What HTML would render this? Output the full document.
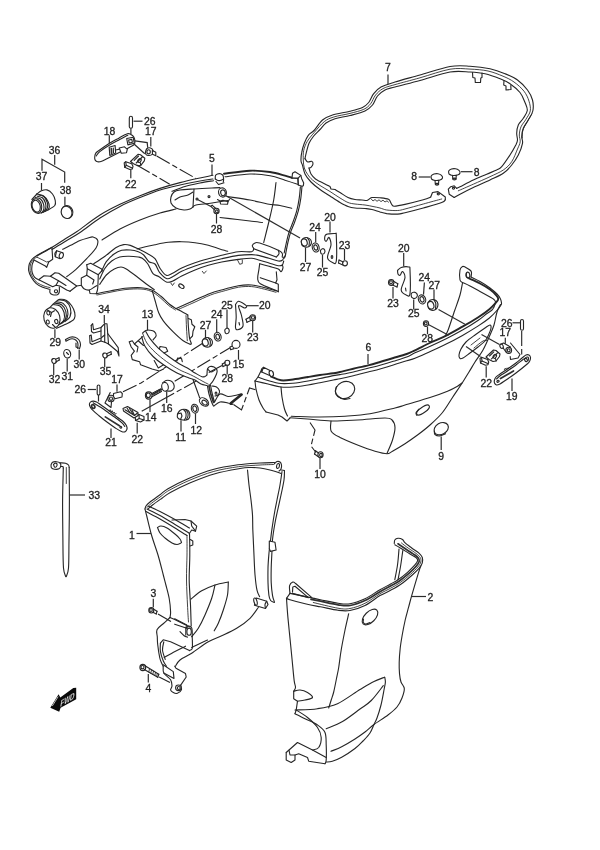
<!DOCTYPE html>
<html>
<head>
<meta charset="utf-8">
<title>Side Cover parts diagram</title>
<style>
html,body{margin:0;padding:0;background:#fff;}
body{width:600px;height:850px;overflow:hidden;font-family:"Liberation Sans",sans-serif;}
svg{display:block;position:absolute;left:0;top:0;will-change:transform;}
.l{fill:none;stroke:#262626;stroke-width:1.12;stroke-linecap:round;stroke-linejoin:round;}
.t{fill:none;stroke:#222;stroke-width:.85;stroke-linecap:round;stroke-linejoin:round;}
.w{fill:#fff;stroke:#262626;stroke-width:1.12;stroke-linecap:round;stroke-linejoin:round;}
.b{fill:none;stroke:#262626;stroke-width:1.9;stroke-linecap:round;stroke-linejoin:round;}
.m{fill:none;stroke:#303030;stroke-width:1.7;stroke-linecap:round;stroke-linejoin:round;}
.ld{fill:none;stroke:#2c2c2c;stroke-width:1.2;}
.d{fill:none;stroke:#222;stroke-width:1.1;stroke-dasharray:15 3 5.5 3;}
.k{fill:#222;stroke:none;}
text{font-family:"Liberation Sans",sans-serif;font-size:10.4px;fill:#222;stroke:#222;stroke-width:.3px;text-anchor:middle;}
</style>
</head>
<body>
<svg width="600" height="850" viewBox="0 0 600 850">
<rect x="0" y="0" width="600" height="850" fill="#fff"/>

<g id="part5">
<path class="l" d="M37 256C39.3 254.7 46.3 250.8 51 248C55.7 245.2 60.7 241.8 65 239C69.3 236.2 71.2 235.5 77 231.5C82.8 227.5 92.8 219.5 100 215C107.2 210.5 113.3 207.5 120 204.3C126.7 201.1 133.3 198.3 140 195.7C146.7 193 153.3 190.6 160 188.4C166.7 186.2 173.3 184.3 180 182.6C186.7 180.9 194.5 179.2 200 178C205.5 176.8 210.8 175.8 213 175.3"/>
<path class="l" d="M52 249.5C54.3 248.1 61.3 243.8 66 241C70.7 238.2 74.3 236.3 80 232.5C85.7 228.7 93.3 222.3 100 218C106.7 213.7 113.3 209.8 120 206.4C126.7 203 133.3 200.3 140 197.6C146.7 194.9 153.3 192.1 160 190C166.7 187.9 173.3 186.5 180 185C186.7 183.5 194.5 182 200 181C205.5 180 210.8 179.3 213 179"/>
<path class="b" d="M224 173.7C228.3 173.2 242.3 171 250 170.7C257.7 170.4 264.2 171.2 270 172C275.8 172.8 281.3 174.7 285 175.7C288.7 176.7 290.8 177.5 292 177.8"/>
<path class="l" d="M225 176.8C229.2 176.3 242.5 174.2 250 174C257.5 173.8 264.2 174.8 270 175.8C275.8 176.8 280.4 178.8 285 180.2C289.6 181.6 295.4 183.5 297.5 184.2"/>
<path class="l" d="M52 247.3C50.7 248 46.5 250.2 44 251.5C41.5 252.8 39.3 254 37.3 255.3C35.3 256.6 33.3 257.9 32 259.3C30.7 260.8 29.9 262.1 29.3 264C28.8 265.9 28.4 268.5 28.7 270.7C29 272.9 30.1 275.2 31.3 277.3C32.5 279.4 34.1 281.6 36 283.3C37.9 285 40.5 286.3 42.7 287.3C44.9 288.3 48.2 289 49.3 289.3"/>
<path class="t" d="M37.3 257.3C36.9 257.5 35.8 257.5 34.7 258.5C33.6 259.5 31.6 261.3 30.9 263.3C30.1 265.3 29.9 268.4 30.2 270.7C30.5 273 31.5 275.3 32.7 277.3C33.9 279.3 35.4 281.2 37.3 282.7C39.2 284.1 41.9 285.2 44 286C46.1 286.8 49 287.3 50 287.6"/>
<path class="l" d="M34 260C33.7 260.9 32.3 263.3 32 265.3C31.7 267.3 31.6 270 32 272C32.5 274 33.5 276 34.7 277.3C35.9 278.6 38.5 279.6 39.3 280"/>
<path class="l" d="M34 260 L45.3 266 L46.7 267.3 L48.7 262 L52.7 259.3 L52 248"/>
<path class="t" d="M37.3 257.3 L46.7 262 L48.3 261.5"/>
<path class="l" d="M50 289.3C50 289.9 49.5 291.8 50 292.7C50.5 293.6 51.5 294.4 52.7 294.7C53.9 295 56.2 295.1 57.3 294.7C58.4 294.2 59 293.3 59.3 292C59.6 290.7 59.3 287.6 59.3 286.7"/>
<ellipse class="l" cx="56" cy="291.3" rx="1.6" ry="1.6"/>
<path class="w" d="M56.7 250.7 L62.7 252.7 L60 258.7 L55.3 256.7Z"/>
<path class="l" d="M56.7 250.7C56.4 251.1 55.1 252.4 54.9 253.4C54.7 254.4 55.2 256.1 55.3 256.7"/>
<ellipse class="w" cx="61.3" cy="255.5" rx="2" ry="3" transform="rotate(15 61.3 255.5)"/>
<path class="l" d="M62.7 249.3C64.5 248.4 70.4 245.5 73.3 244C76.2 242.5 77.5 241.5 80 240.5C82.5 239.5 85.8 238.6 88 238C90.2 237.4 91.4 236.6 93 237C94.6 237.4 97.2 238.5 97.7 240.3C98.2 242.1 97.8 244.9 96 248C94.2 251.1 90 255.1 86.7 258.7C83.4 262.2 79.3 266.3 76 269.3C72.7 272.3 68.2 275.5 66.7 276.7"/>
<path class="l" d="M39.3 279.3 L44 275.7 L50.4 276.3 L55 272.7 L58.7 273.3 L76.7 286 L70 291.3"/>
<path class="l" d="M39.3 280 L52.7 286.7 L56 285.3 L60 286 L66.7 290 L70 291.3"/>
<path class="l" d="M50.4 276.3 L58.5 280.7 L56 285.3"/>
<path class="l" d="M58.5 280.7 L66 285.5"/>
<path class="l" d="M76.7 286 L81.3 285.3 L81.3 278 L86.7 275.3 L94 280 L92.7 284"/>
<path class="l" d="M81.3 285.3C81.8 285.9 82.7 287.9 84 288.7C85.3 289.5 87.5 290.3 89.3 290C91.1 289.7 93.4 287.4 94.7 286.7C96 285.9 96.6 285.7 97 285.5"/>
<path class="l" d="M86.7 264.7 L90.7 263.3 L101.7 269 L102.3 271"/>
<path class="l" d="M86.7 264.7 L87.3 268.7 L98.3 274.7 L101.7 271"/>
<path class="l" d="M87.3 268.7 L86.7 275.3"/>
<path class="l" d="M98.3 274.7C98.2 277 98 285.1 97.7 288.3C97.4 291.5 96.5 292.8 96.3 293.7"/>
<path class="l" d="M89.3 290 L90 293.5 L96.3 293.7"/>
<path class="l" d="M96.3 293.7C98.6 293.2 105.2 291.9 110 291C114.8 290.1 119.8 288.9 125 288.3C130.2 287.8 136.6 287.4 141 287.7C145.4 288 148.4 288.6 151.7 290C155 291.4 158.1 294 161 296.3C163.9 298.6 166.7 301.9 169.2 304C171.7 306.1 173.1 306.8 176.2 308.6C179.3 310.4 185.9 313.9 187.8 315"/>
<path class="t" d="M97 295C99.2 294.6 105.3 293.2 110 292.3C114.7 291.4 119.8 290.2 125 289.6C130.2 289.1 136.7 288.7 141 289C145.3 289.3 147.8 289.9 151 291.3C154.2 292.7 157.1 295.2 160 297.5C162.9 299.8 165.7 303.1 168.3 305.2C170.9 307.3 174.3 309.2 175.5 310"/>
<path class="l" d="M102 240C105 238.2 113.7 232.3 120 229C126.3 225.7 133.3 222.7 140 220C146.7 217.3 154 214.8 160 213C166 211.2 173.3 209.7 176 209"/>
<path class="l" d="M93.7 263.7C95.6 262.5 101.3 259 105 256.3C108.7 253.6 112.6 249.6 115.7 247.7C118.8 245.8 121.3 245 123.7 244.6C126.1 244.2 127.9 244.7 130.3 245.4C132.7 246.1 135.4 247.6 138.3 249C141.2 250.4 144.9 252.1 147.7 253.7C150.5 255.3 152.9 256.2 155 258.7C157.1 261.2 158.4 265.9 160.3 268.7C162.2 271.5 164.4 274.5 166.3 275.3C168.2 276.1 169.4 274.7 172 273.5C174.6 272.3 177.9 269.8 181.7 268C185.5 266.2 190.6 264.2 195 262.7C199.4 261.1 203.9 259.9 208.3 258.7C212.8 257.5 216.7 256.5 221.7 255.3C226.7 254.1 233.3 252.3 238.3 251.7C243.3 251.1 249.1 252.3 251.7 251.7C254.3 251.1 253.4 248.9 253.7 248.3"/>
<path class="l" d="M101.7 271C102.5 269.4 104.3 264.5 106.3 261.7C108.3 258.9 111.1 256.2 113.7 254.3C116.3 252.4 118.9 251 121.7 250.3C124.5 249.6 127.5 249.8 130.3 250C133.1 250.2 136.1 250.9 138.3 251.7C140.5 252.5 141.9 253.3 143.7 255C145.5 256.7 147.1 260.2 149 261.7C150.9 263.2 153.2 262.2 155 264C156.8 265.8 157.7 270.2 159.7 272.7C161.7 275.1 164.8 278.1 167 278.7C169.2 279.3 170.6 277.7 173 276.5C175.4 275.3 178 273.1 181.7 271.3C185.4 269.6 190.6 267.6 195 266C199.4 264.4 203.9 263.2 208.3 262C212.8 260.8 216.7 259.8 221.7 258.7C226.7 257.6 233.3 256.1 238.3 255.4C243.3 254.7 248.4 254.6 251.7 254.6C255 254.6 255.4 254.8 258.3 255.4C261.2 256 265.7 257.4 269 258.3C272.3 259.2 276.1 260.7 278.3 261C280.5 261.3 281.4 260.9 282.3 260.3C283.2 259.8 283.5 258.1 283.7 257.7"/>
<path class="l" d="M99.7 279C100.6 277.2 103 271.3 105 268.3C107 265.3 109.2 262.9 111.7 261C114.2 259.1 116.8 257.8 119.7 257C122.6 256.2 125.9 256.3 129 256.3C132.1 256.3 136.1 256.7 138.3 257C140.5 257.3 140.7 257.2 142.3 258.3C143.9 259.4 145.9 261.1 147.7 263.7C149.5 266.3 151.1 271.5 153 273.7C154.9 275.9 156.8 275.3 159 276.7C161.2 278.1 164.1 281.2 166.3 282C168.5 282.8 169.7 282.3 172.3 281.3C174.9 280.3 177.9 277.9 181.7 276C185.5 274.1 190.6 271.8 195 270C199.4 268.2 203.9 266.6 208.3 265.3C212.8 264 216.7 263 221.7 262C226.7 261 233.3 260 238.3 259.4C243.3 258.8 248.1 258.1 251.7 258.3C255.3 258.5 256.8 259.5 259.7 260.3C262.6 261.1 265.9 262.1 269 263C272.1 263.9 276.1 265.4 278.3 265.7C280.5 266 281.4 265.8 282.3 265C283.2 264.2 283.5 261.7 283.7 261"/>
<path class="l" d="M99.7 284.3C100.8 282.8 103.9 277.6 106.3 275C108.7 272.4 111.8 270.3 114.3 269C116.8 267.7 119 267 121 267C123 267 123.4 267.2 126.3 269C129.2 270.8 134.7 275 138.3 277.7C141.9 280.4 145 283 147.7 285C150.4 287 153.2 288.9 154.3 289.7"/>
<path class="l" d="M253.7 248.3C253.5 247.9 252.1 246.6 252.3 245.7C252.5 244.8 253.8 243.4 255 243C256.2 242.6 255.8 241.8 259.7 243C263.6 244.2 274.5 248.5 278.3 250.3C282.1 252.1 281.6 252.6 282.3 253.7C283 254.8 281.9 256.6 282.3 257C282.8 257.4 284.4 256.9 285 256.3C285.6 255.8 285.6 254.1 285.7 253.7"/>
<path class="l" d="M253.7 248.7 L276.3 257"/>
<path class="l" d="M276.3 257C276.8 256.4 278.7 254.8 279 253.7C279.3 252.6 278.4 250.9 278.3 250.3"/>
<path class="l" d="M259.7 263.7C261.2 264.1 265.9 265.4 269 266.3C272.1 267.2 276.3 268.1 278.3 269C280.3 269.9 280.2 271.9 281 271.7C281.8 271.5 282.8 268.8 283 267.7C283.2 266.6 282.4 265.4 282.3 265"/>
<path class="t" d="M171 283.3 L172.5 285.5 L174.3 283"/>
<path class="t" d="M202.3 271.3 L204 273.5 L206.3 271"/>
<path class="t" d="M237.7 260.3 L239.7 264.3 L242.3 263.5 L242.3 260"/>
<path class="l" d="M259.7 263.7C259.6 264.6 259.3 266.6 259 269C258.7 271.4 257.5 275.9 257.7 278.3C257.9 280.8 257.3 281.7 260.3 283.7C263.3 285.7 272.7 289 275.7 290.3C278.7 291.6 277.9 291.5 278.3 291.7"/>
<path class="l" d="M260.3 277.7 L275.7 283 L277 279.7 L276.3 271.7"/>
<path class="l" d="M275.7 283 L278.3 284.3 L278.3 291.7"/>
<path class="l" d="M137 249C138.8 248.6 144.7 247 147.7 246.3C150.7 245.6 151.6 245.4 155 244.7C158.4 244 163.9 242.8 168.3 242.3C172.8 241.8 177.2 241.6 181.7 241.7C186.1 241.8 190.6 242.1 195 242.7C199.4 243.3 204.3 244.3 208.3 245.3C212.3 246.3 215.8 247.7 219 248.7C222.2 249.7 226.2 250.9 227.7 251.3"/>
<path class="l" d="M220 187.6C218.7 187.7 216.3 187.8 212 188C207.7 188.2 199.3 188.7 194 189C188.7 189.3 183.3 189.5 180 190C176.7 190.5 175.5 190.8 174 192C172.5 193.2 171.5 195.2 171 197C170.5 198.8 170.2 201.2 171 203C171.8 204.8 173.8 206.8 176 208C178.2 209.2 181.7 209.8 184 210C186.3 210.2 188.5 209.5 190 209C191.5 208.5 192 207.7 193 207C194 206.3 192.8 205.7 196 205C199.2 204.3 206.7 203.8 212 203C217.3 202.2 225.3 200.9 228 200.5"/>
<path class="l" d="M175 200C175.8 199.5 177.8 197.8 180 197C182.2 196.2 185.8 195.8 188 195C190.2 194.2 192.2 192.5 193 192"/>
<path class="l" d="M194 189 L193 207"/>
<ellipse class="l" cx="197" cy="199" rx="1" ry="1"/>
<ellipse class="l" cx="209" cy="196.6" rx="1" ry="1"/>
<path class="w" d="M215.3 179C215.3 178.4 215.1 176.3 215.5 175.5C215.9 174.7 216.7 174.3 217.5 174C218.3 173.7 219.6 173.6 220.5 173.8C221.4 174.1 222.5 174.6 223 175.5C223.5 176.4 223.5 177.9 223.6 179C223.7 180.1 223.4 181.5 223.3 182"/>
<path class="l" d="M215.3 179C215.8 179.2 217.1 180.3 218 180.5C218.9 180.7 220.1 180.6 221 180.3C221.9 180.1 222.9 179.2 223.3 179"/>
<path class="l" d="M216 181.5 L218.5 184.5 L224 182.8"/>
<path class="l" d="M172 191.3C174.2 190.5 180.3 187.9 185 186.5C189.7 185.1 195.2 184 200 183C204.8 182 211.2 181.1 213.5 180.7"/>
<ellipse class="w" cx="222.5" cy="192.5" rx="3.9" ry="4.6" transform="rotate(-15 222.5 192.5)"/>
<ellipse class="l" cx="223" cy="192.8" rx="2.3" ry="2.9" transform="rotate(-15 223 192.8)"/>
<path class="l" d="M217.5 199.5 L220 201 L223 200.2 L228 201.7 L229.5 199.3"/>
<path class="l" d="M220 201 L220.5 204 L227.5 204.3 L228 201.7"/>
<path class="ld" d="M225.5 195.5 L300 238"/>
<path class="w" d="M292 178 L292.5 173.3 L295 171.7 L300.8 175.4 L301.7 178.7 L303.7 182.9 L303.3 185.8 L302 186.2 L298.3 185 L297.9 178.3Z"/>
<path class="l" d="M297.9 178.3 L300.8 175.4"/>
<path class="l" d="M298.3 185 L297.9 178.3 L292 178"/>
<path class="l" d="M302 186.2C301.8 188.2 301.4 194.2 300.8 198.3C300.2 202.4 299.4 206.6 298.3 210.8C297.2 215 295.4 219.8 294.2 223.3C292.9 226.8 291.8 228.6 290.8 231.7C289.8 234.8 288.9 238.3 288 242C287.1 245.7 286.2 251.3 285.6 254C285 256.7 284.7 257.3 284.5 258"/>
<path class="l" d="M300.4 186.7C300.2 188.6 299.8 194.3 299.2 198.3C298.6 202.3 297.8 206.6 296.7 210.8C295.6 215 293.8 219.8 292.5 223.3C291.2 226.8 290.2 228.6 289.2 231.7C288.2 234.8 287.3 238.4 286.5 242C285.7 245.6 284.6 251.2 284.2 253"/>
<path class="l" d="M276 182.5C275.6 185.4 274.9 193.3 273.7 200C272.5 206.7 270.4 215.4 268.7 222.5C267 229.6 264.5 239.2 263.7 242.5"/>
<path class="l" d="M220 217.5C222.9 217.8 232.5 218.9 237.5 219.5C242.5 220.1 245.8 220.5 250 221C254.2 221.5 260.4 222.2 262.5 222.5"/>
<path class="l" d="M227 196.5C230.8 197.1 243.2 198.8 250 200C256.8 201.2 262.5 203.1 267.5 204C272.5 204.9 276 204.8 280 205.5C284 206.2 289.8 207.8 291.7 208.3"/>
<path class="l" d="M152.3 291C152.8 292.7 154.1 297.4 155.2 301C156.3 304.6 157.3 309.4 158.7 312.7C160 316 161 317.7 163.3 320.8C165.6 323.9 169.4 328 172.7 331.3C176 334.6 180.3 338.6 183.2 340.7C186.1 342.8 189 343.6 190.2 344.2"/>
<path class="l" d="M187.8 315C187.9 316.9 188.1 322.8 188.4 326.7C188.7 330.6 189.1 335.5 189.6 338.3C190.1 341.1 191.2 342.6 191.3 343.6C191.4 344.6 190.4 344.1 190.2 344.2"/>
<path class="t" d="M186 315.6C186.1 317.7 186.3 323.8 186.5 328C186.7 332.2 187.2 338.6 187.3 340.7"/>
<path class="l" d="M188.4 318.5 L191.3 319.7 L192 324.3 L194.8 326.7 L193 331.3 L192.5 336 L190.2 338.3"/>
<path class="l" d="M176.2 308.6C179 307.3 187.4 303.5 193 301C198.6 298.5 204.7 295.4 210 293.4C215.3 291.4 220.3 290.3 225 289C229.7 287.7 233.9 286.4 238.3 285.7C242.8 285 247.2 284.7 251.7 285C256.1 285.3 260.8 286.7 265 287.7C269.2 288.7 275 290.4 277 291"/>
<path class="t" d="M178 309.6C180.7 308.4 188.6 304.9 194 302.5C199.4 300.1 205.3 297 210.5 295C215.7 293 220.6 291.9 225.3 290.6C230 289.3 234.1 287.9 238.5 287.2C242.9 286.5 247.4 286.3 251.7 286.6C256 286.9 260.4 288.2 264.5 289.2C268.6 290.1 274.1 291.8 276 292.3"/>
<ellipse class="l" cx="181.4" cy="286.2" rx="1.7" ry="3" transform="rotate(-55 181.4 286.2)"/>
</g>
<g id="part7">
<path class="l" d="M445.3 199.8C444.7 200.3 445.4 201.2 441.7 202.6C438 204 429.4 206.3 423.3 208C417.2 209.7 409.3 211.7 405 212.7C400.7 213.7 400.8 213.9 397.7 214.1C394.6 214.2 389.6 213.9 386.7 213.6C383.8 213.2 382.4 212.7 380 212C377.6 211.3 374.5 210.1 372 209.5C369.5 208.9 367.8 208.8 365 208.5C362.2 208.2 357.8 208.3 355 208C352.2 207.7 350.5 207.4 348 206.5C345.5 205.6 343 204.2 340 202.5C337 200.8 333.3 198.2 330 196C326.7 193.8 323.2 191.8 320 189.5C316.8 187.2 313.5 184.6 311 182C308.5 179.4 306.4 176.9 305 174C303.6 171.1 303 166.9 302.3 164.7C301.6 162.5 301.1 162.7 301 160.7C300.9 158.7 301.1 155.6 301.7 152.7C302.2 149.8 303.2 146.2 304.3 143.3C305.4 140.4 306.7 137.4 308.3 135.3C309.9 133.2 311.6 133.1 314 130.5C316.4 128 319.4 122.6 322.5 120C325.6 117.4 327.9 116.5 332.5 115C337.1 113.5 345 112.5 350 111.2C355 110 359.4 109 362.5 107.5C365.6 106 366.8 104.8 368.7 102.5C370.6 100.2 371.6 96.3 373.7 93.7C375.8 91.1 377.4 89 381 87C384.6 85 388.5 84 395 82C401.5 80 410.8 77.6 420 75C429.2 72.4 441.7 68 450 66.5C458.3 65 463.3 65.8 470 66.2C476.7 66.6 484.2 67.5 490 68.7C495.8 70 500.4 71.8 505 73.7C509.6 75.6 513.8 77.3 517.5 80C521.2 82.7 525 86.7 527.5 90C530 93.3 531.6 96.5 532.5 100C533.4 103.5 533.5 107.7 532.8 111C532.1 114.3 529.9 117.1 528.3 120C526.7 122.9 524.4 125.5 523.3 128.3C522.2 131.1 521.8 134.2 521.7 136.7C521.6 139.2 523.1 140.2 522.5 143.3C521.9 146.4 520.1 151.4 518.3 155C516.5 158.6 514.2 161.9 511.7 165C509.2 168.1 506.9 170.8 503.3 173.3C499.7 175.8 495 177.6 490 180C485 182.4 478.3 185.1 473.3 187.5C468.3 189.9 463.2 192.5 460 194.2C456.8 195.9 455.2 196.9 454.2 197.5"/>
<path class="l" d="M430.7 197C429.5 197.5 427.6 198.6 423.3 199.8C419 201 409.9 203.3 405 204.4C400.1 205.5 396.3 206.3 394 206.2C391.7 206 392.1 204.7 391.2 203.5C390.3 202.3 390.4 200.2 388.5 199.3C386.6 198.4 382.8 198.1 380 197.8C377.2 197.5 373.7 197.4 372 197.5C370.3 197.6 370.8 198 370 198.5C369.2 199 368.3 200.2 367 200.5C365.7 200.8 364 200.2 362 200C360 199.8 357.3 199.9 355 199.5C352.7 199.1 350.5 198.7 348 197.5C345.5 196.3 342.2 193.8 340 192.5C337.8 191.2 335.8 190 335 189.5"/>
<path class="l" d="M335 189.5 L331 189 L330 186.5 L328 185.5"/>
<path class="l" d="M328 185.5C326.7 184.8 322.1 182.6 320 181.5C317.9 180.4 317 180.2 315.5 179C314 177.8 312.1 175.8 311 174C309.9 172.2 309.3 169 309 168"/>
<path class="l" d="M309 168C309.3 167.9 310.3 168 311 167.3C311.7 166.6 312.9 165 313 164C313.1 163 312.6 161.6 311.7 161.3C310.8 161 308.8 162.4 307.7 162C306.6 161.6 305.4 159.2 305 158.7"/>
<path class="l" d="M305 158.7C305.2 157.7 305.6 155.3 306.3 152.7C307 150.1 307.8 146.1 309 143.3C310.2 140.5 311.9 138.3 313.7 136C315.5 133.7 317.9 131.7 320 129.5C322.1 127.3 323.5 124.8 326 123C328.5 121.2 331 120 335 118.7C339 117.5 345 116.8 350 115.5C355 114.2 361.2 112.8 365 111C368.8 109.2 370.4 107.5 372.5 105C374.6 102.5 375.4 98.5 377.5 96C379.6 93.5 382.1 91.5 385 90C387.9 88.5 389.2 88.6 395 87C400.8 85.4 410.8 83 420 80.5C429.2 78 441.7 73.4 450 72C458.3 70.6 464.2 71.7 470 72C475.8 72.3 480 72.6 485 73.7C490 74.8 495.8 77 500 78.7C504.2 80.4 506.7 81.4 510 83.7C513.3 86 517.5 89.4 520 92.5C522.5 95.6 523.8 99.5 525 102.5C526.2 105.5 527.6 107.9 527.3 110.5C527 113.1 524.8 115.9 523.3 118.3C521.8 120.7 519.4 122.5 518.3 125C517.2 127.5 516.8 130.8 516.7 133.3C516.6 135.8 517.6 138.1 517.5 140C517.4 141.9 517 142.5 515.8 145C514.5 147.5 512.4 151.4 510 155C507.6 158.6 503.9 164.2 501.7 166.7C499.5 169.2 499.2 168.8 496.7 170C494.2 171.2 490.6 172.5 486.7 174.2C482.8 175.9 477.8 177.9 473.3 180C468.9 182.1 462.8 185.3 460 186.7C457.2 188.1 457.2 188 456.7 188.3"/>
<path class="t" d="M441.7 199C438.6 199.8 429.4 202.3 423.3 204C417.2 205.7 409.3 207.9 405 209C400.7 210.1 400.8 210.3 397.7 210.5C394.6 210.7 389.6 210.4 386.7 210C383.8 209.6 382.3 208.6 380 208C377.7 207.4 375.5 207 373 206.5C370.5 206 368 205.4 365 205C362 204.6 357.8 204.4 355 204C352.2 203.6 350.5 203.5 348 202.5C345.5 201.5 343 199.8 340 198C337 196.2 333.3 193.6 330 191.5C326.7 189.4 322.9 187.4 320 185.5C317.1 183.6 314.6 181.8 312.5 180C310.4 178.2 309.1 176.5 307.7 174.5C306.3 172.5 305 170.4 304.3 168C303.6 165.6 303.4 162.9 303.3 160C303.2 157.1 303 153.6 303.7 150.5C304.4 147.4 305.5 144.3 307.3 141.3C309.1 138.3 311.5 135.7 314.3 132.4C317.1 129.1 321.1 124.2 324.3 121.6C327.6 119 329.5 118.4 333.8 117C338.1 115.6 345 114.7 350 113.4C355 112.1 360.4 110.9 363.8 109.3C367.2 107.7 368.6 106.2 370.6 103.8C372.6 101.4 373.5 97.5 375.6 95C377.7 92.5 379.8 90.3 383 88.6C386.2 86.9 388.8 86.4 395 84.6C401.2 82.8 410.8 80.4 420 77.8C429.2 75.2 441.7 70.7 450 69.2C458.3 67.8 463.7 68.8 470 69.1C476.3 69.4 482.5 69.8 488 71C493.5 72.2 498.7 74.4 503 76.2C507.3 78 510.5 79.5 514 82C517.5 84.5 521.5 88 524 91.2C526.5 94.4 528 97.9 529 101.2C530 104.5 530.8 107.8 530.3 110.8C529.8 113.8 527.5 116.5 526 119.2C524.5 121.9 522.1 124.2 521 126.8C519.9 129.4 519.4 132.5 519.3 135C519.2 137.5 520.5 139.5 520.2 141.8C519.9 144.1 518.9 145.7 517.5 149C516.1 152.3 514.1 158.2 511.7 161.7C509.3 165.2 506.9 167.5 503.3 170C499.7 172.5 495 174.3 490 176.7C485 179.1 478.6 181.8 473.3 184.2C468 186.5 460.8 189.7 458.3 190.8"/>
<path class="l" d="M430.7 197 L432.5 192.5 L438 191.6 L445.3 197 L445.3 199.8"/>
<ellipse class="l" cx="438.3" cy="194" rx="1.1" ry="0.9"/>
<path class="t" d="M371.5 199.3 L373 201 L375 199.5 L377 201.3 L379 199.8 L381 201.6 L383 200.2 L385 202 L387 200.8 L388.5 202.2"/>
<path class="l" d="M456.7 188.3 L454.2 185.8 L450.8 186.7 L448.3 189.2 L449.2 194.2 L454.2 197.5"/>
<ellipse class="l" cx="453.5" cy="188.3" rx="1.1" ry="0.9"/>
<path class="t" d="M531.8 114C531 115.3 528.5 119.2 527 122C525.5 124.8 523.6 127.8 522.8 130.5C522 133.2 522.4 136.8 522.3 138"/>
<path class="l" d="M472.5 72.5 L472.8 77.5 L475 78 L475.3 82.5 L480.5 82.5 L480.8 78 L482 77.5 L482 73"/>
<path class="l" d="M504 80.5 L503.7 85 L506 86 L506 90 L511 89.5 L510.8 85.5"/>
<path class="w" d="M431.5 179C431.4 178.5 430.8 176.8 431.2 176C431.6 175.2 432.9 174.4 434 174C435.1 173.6 436.8 173.5 438 173.7C439.2 173.9 440.8 174.6 441.5 175.3C442.2 176 442.8 177.2 442.5 178C442.2 178.8 441.4 179.6 440 180C438.6 180.4 435.4 180.5 434 180.3C432.6 180.1 431.9 179.2 431.5 179"/>
<path class="l" d="M435 180.3 L435.3 184 L438.5 184.3 L438.8 180.2"/>
<ellipse class="l" cx="437" cy="184.3" rx="1.7" ry="0.9"/>
<path class="w" d="M449 174C448.9 173.5 448.3 171.8 448.7 171C449.1 170.2 450.4 169.4 451.5 169C452.6 168.6 454.2 168.5 455.5 168.7C456.8 168.9 458.2 169.6 459 170.3C459.8 171 460.2 172.2 460 173C459.8 173.8 458.9 174.6 457.5 175C456.1 175.4 452.9 175.5 451.5 175.3C450.1 175.1 449.4 174.2 449 174"/>
<path class="l" d="M452.5 175.3 L452.8 178.7 L456 179 L456.3 175.2"/>
<ellipse class="l" cx="454.4" cy="179" rx="1.7" ry="0.9"/>
<path class="ld" d="M418.7 177 L430.5 177"/>
<path class="ld" d="M461 171.7 L472.5 171.7"/>
<path class="ld" d="M388 74.5 L388 84"/>
</g>
<g id="part6">
<path class="l" d="M255 381C257.2 381.5 263.7 383 268 384C272.3 385 276.8 386.5 281 387C285.2 387.5 288.5 387.3 293 387C297.5 386.7 303.5 385.7 308 385C312.5 384.3 315.8 383.5 320 382.7C324.2 381.9 330 380.7 333.3 380C336.6 379.3 336.7 379.4 340 378.7C343.3 378 348.6 376.8 353.3 375.7C358 374.6 363.6 373.1 368 372C372.4 370.9 375.8 370.2 380 369C384.2 367.8 388.9 366.4 393.3 365C397.8 363.6 403.1 361.8 406.7 360.7C410.3 359.6 411 359.9 415 358.3C419 356.7 425.5 353.6 430.8 351.2C436.1 348.8 441.4 346.4 446.7 343.8C452 341.2 457.2 338.4 462.5 335.4C467.8 332.4 473.8 328.8 478.3 325.9C482.8 323 486.2 320.6 489.4 318C492.6 315.4 495.4 312.2 497.3 310C499.2 307.8 500.3 306.2 501 305C501.7 303.8 501.6 304 501.5 303C501.4 302 501.2 300.5 500.5 299C499.8 297.5 498.8 295.8 497 294C495.2 292.2 492.8 290.1 490 288C487.2 285.9 483.2 283.3 480 281.5C476.8 279.7 472.5 277.8 471 277"/>
<path class="l" d="M258 377C259.7 377.6 264.2 379.4 268 380.5C271.8 381.6 276.8 383.1 281 383.5C285.2 383.9 288.5 383.6 293 383.2C297.5 382.8 303.5 381.8 308 381C312.5 380.2 315.8 379.4 320 378.5C324.2 377.6 330 376.2 333.3 375.6C336.6 375 336.7 375.2 340 374.6C343.3 374 348.6 373.1 353.3 372C358 370.9 363.6 369.4 368 368.3C372.4 367.2 375.8 366.5 380 365.3C384.2 364.1 388.9 362.7 393.3 361.3C397.8 359.9 403.1 358.4 406.7 357C410.3 355.6 411 354.6 415 352.8C419 351 425.5 348.4 430.8 346C436.1 343.6 441.4 341.1 446.7 338.5C452 335.9 457.2 333.1 462.5 330.1C467.8 327.1 474.2 323.1 478.3 320.3C482.4 317.5 484.7 315.2 487 313.5C489.3 311.8 490.8 311.1 492 310C493.2 308.9 493.4 308.3 494 307C494.6 305.7 495.5 303.2 495.5 302C495.5 300.8 494.9 300.3 494 299.5C493.1 298.7 492.3 298.3 490 297C487.7 295.7 483.3 293.3 480 291.5C476.7 289.7 472.9 287.5 470 286C467.1 284.5 463.8 283.1 462.5 282.5"/>
<path class="b" d="M271 376.5C272.7 377.1 277.3 379.8 281 380.3C284.7 380.8 288.5 380.1 293 379.5C297.5 378.9 303.5 377.8 308 377C312.5 376.2 315.8 375.6 320 375C324.2 374.4 330 373.8 333.3 373.3C336.6 372.8 336.7 372.8 340 372C343.3 371.2 348.6 369.8 353.3 368.7C358 367.6 363.6 366.4 368 365.3C372.4 364.2 375.8 363.2 380 362C384.2 360.8 388.9 359.3 393.3 358C397.8 356.7 403.1 355.3 406.7 354C410.3 352.7 411 352.2 415 350.3C419 348.4 425.5 345 430.8 342.5C436.1 340 441.4 338 446.7 335.4C452 332.8 457.2 329.7 462.5 326.7C467.8 323.7 473.8 320.1 478.3 317.2C482.8 314.3 486.5 311.6 489.4 309.2C492.3 306.8 494.2 304.6 495.7 302.9C497.2 301.2 498.2 300.3 498.3 299C498.4 297.7 497.4 296.6 496 295C494.6 293.4 492.7 291.4 490 289.5C487.3 287.6 483.5 285.3 480 283.5C476.5 281.7 470.8 279.3 469 278.5"/>
<path class="l" d="M462.5 282.5C462.1 282.1 460.4 282.1 460 280C459.6 277.9 459.6 272.2 460 270C460.4 267.8 461.7 267 462.5 266.5C463.3 266 463.7 266.3 465 267C466.3 267.7 469.4 269.5 470.5 270.5C471.6 271.5 471.4 271.9 471.5 273C471.6 274.1 471.1 276.3 471 277"/>
<ellipse class="l" cx="468" cy="275" rx="1.8" ry="2.9" transform="rotate(-10 468 275)"/>
<path class="l" d="M466.5 273C466.4 273.5 465.8 275.2 466 276C466.2 276.8 467.2 277.7 467.5 278"/>
<path class="l" d="M255 381 L258 377 L261.7 369.5"/>
<path class="w" d="M263.5 367.3 L273 372 L271.5 376.3 L261.7 372Z"/>
<path class="l" d="M263.5 367.3C263.2 367.6 261.8 368.5 261.5 369.3C261.2 370.1 261.7 371.6 261.7 372"/>
<ellipse class="w" cx="271.3" cy="373.5" rx="2" ry="3" transform="rotate(-20 271.3 373.5)"/>
<path class="l" d="M255 381C255.2 382.3 255.3 385.8 256 389C256.7 392.2 257.8 396.8 259 400C260.2 403.2 261.8 406 263 408C264.2 410 265.5 411.3 266 412"/>
<path class="l" d="M266 412 L278 415 L282 417 L287 421 L290 418"/>
<path class="l" d="M290 417.8C292.9 418 300.7 418.5 307.5 419C314.3 419.5 322.7 420.8 331 421C339.3 421.2 348.5 420.5 357.5 420C366.5 419.5 379.2 418 385 418C390.8 418 390.3 418.4 392 420C393.7 421.6 394.9 424.2 395 427.5C395.1 430.8 393.8 435.7 392.5 440C391.2 444.3 387.9 451.2 387 453.5"/>
<path class="l" d="M291.2 416.2C296 416.3 311 417 320 417C329 417 336.7 416.8 345 416.2C353.3 415.6 361.7 415.1 370 413.7C378.3 412.3 389.2 409.4 395 408C400.8 406.6 399.2 406.8 405 405C410.8 403.2 422.9 399.8 430 397.5C437.1 395.2 442.9 393.1 447.5 391.2C452.1 389.3 455.1 387.6 457.5 386.2C459.9 384.8 461.2 383.5 462 383"/>
<path class="l" d="M331 421C331 422.7 329.7 428.4 331.2 431.2C332.7 433.9 335.6 435.2 340 437.5C344.4 439.8 351.7 442.7 357.5 445C363.3 447.3 370.1 449.8 375 451.2C379.9 452.6 384.1 453.7 387 453.7C389.9 453.7 389.5 452.9 392.5 451.2C395.5 449.5 400.8 446.4 405 443.7C409.2 441 413.3 438.1 417.5 435C421.7 431.9 425.8 428.8 430 425C434.2 421.2 438.8 417.1 442.5 412.5C446.2 407.9 449.2 402.5 452.5 397.5C455.8 392.5 459.8 386.8 462.5 382.5C465.2 378.2 466.9 375.4 469 372C471.1 368.6 472.7 365.7 475 362C477.3 358.3 480.5 354.5 483 350C485.5 345.5 488.2 339.2 490 335C491.8 330.8 492.8 328.8 494 325C495.2 321.2 495.9 315.4 497 312C498.1 308.6 499.9 305.8 500.5 304.5"/>
<path class="l" d="M281 387C281.2 388.7 281.4 393.3 282 397C282.6 400.7 283.6 405.8 284.5 409C285.4 412.2 287 414.8 287.5 416"/>
<path class="l" d="M462.5 283C462.1 285 461.3 290.4 460 295C458.7 299.6 456.6 305 454.6 310.8C452.6 316.6 449.8 325.6 448.2 329.8C446.6 334 445.6 335.1 445.1 336.2"/>
<ellipse class="l" cx="345" cy="390" rx="10" ry="8.3" transform="rotate(-25 345 390)"/>
<path class="l" d="M336.5 386.5C336.3 387.4 335.2 390.3 335.5 392C335.8 393.7 337.1 395.3 338.5 396.5C339.9 397.7 342.1 399 344 399.3C345.9 399.6 349 398.6 350 398.5"/>
<ellipse class="l" cx="423" cy="410" rx="7.5" ry="2.8" transform="rotate(-35 423 410)"/>
<path class="l" d="M417 415.5C416.8 415.1 415.7 414.1 416 413C416.3 411.9 418.5 409.7 419 409"/>
<path class="l" d="M490 325C489 325 487.5 326.3 485 328C482.5 329.7 478.2 332.7 475 335C471.8 337.3 468.3 339.7 466 342C463.7 344.3 462.2 346.8 461 349C459.8 351.2 459.2 353.4 459 355C458.8 356.6 459.3 358 460 358.5C460.7 359 461.3 358.9 463 358C464.7 357.1 467.5 354.8 470 353C472.5 351.2 475.5 349 478 347C480.5 345 483.2 343 485 341C486.8 339 487.5 337.2 488.5 335C489.5 332.8 490.8 329.7 491 328C491.2 326.3 491 325 490 325Z"/>
<path class="t" d="M471 345 L480 338"/>
<path class="t" d="M474 348C475.5 346.8 480.8 342.2 483 341C485.2 339.8 486.8 340.6 487.5 340.5"/>
<ellipse class="w" cx="441.2" cy="428.7" rx="7.6" ry="5.6" transform="rotate(-30 441.2 428.7)"/>
<path class="l" d="M434.3 431C434.4 431.6 434.1 433.7 435 434.5C435.9 435.3 437.8 436.1 439.5 436C441.2 435.9 444.5 434.1 445.5 433.7"/>
<path class="ld" d="M441.2 436.5 L441.2 450"/>
<path class="ld" d="M368 354 L368 364"/>
<path class="d" d="M310 422.5 L315 430 L311 446 L316 452.5"/>
<path class="ld" d="M320 458 L320 469"/>
<ellipse class="w" cx="320.5" cy="454.7" rx="2.6" ry="3"/>
<ellipse class="l" cx="320.9" cy="455" rx="1.3" ry="1.6"/>
<path class="l" d="M318.5 453 L315.5 450.8"/>
<path class="l" d="M318 456.5 L314.5 454"/>
<path class="l" d="M315.5 450.8 L314.5 454"/>
</g>
<g id="lines">
<path class="d" d="M123 391.7 L141 383 L203 343"/>
<path class="d" d="M152 395 L230.5 347.5"/>
<path class="ld" d="M141.7 411.2 L161 400.5"/>
<path class="d" d="M161 400.5 L207 375"/>
</g>
<g id="part13">
<path d="M145.8,331.5 L150,338.7 L158.3,348.1 L168.7,356.5 L179.2,363.7 L189,369 L195,373 L203,377 L207,375 L207.5,369 L210,366.5 L214,367 L217,370 L216.5,374 L213,381 L209,386 L201,384 L195,380 L189,378 L177,373 L163.5,364.8 L153.1,356.5 L144.8,346 L141.7,336.7 L142.7,333 Z" fill="#fff" stroke="none"/>
<path d="M142.7,336.7 L134.4,344 L132.3,340.8 L129.2,341.9 L131.2,347 L134.4,351.2 L131.2,355.4 L132.3,359.6 L139.6,361.7 L140.6,364.8 L152,369 L159.4,371 L163.5,369 L163.5,364.8 L153.1,356.5 L144.8,346 Z" fill="#fff" stroke="none"/>
<path class="l" d="M142.7 333C143.2 332.6 144.6 330.9 145.8 330.4C147 329.9 148.6 330 150 330.2C151.4 330.4 153.2 330.6 154.2 331.5C155.2 332.4 156.4 334.2 156.2 335.6C156 337 153.6 339.1 153.1 339.8"/>
<path class="l" d="M145.8 331.5C146.5 332.7 147.9 335.9 150 338.7C152.1 341.5 155.2 345.1 158.3 348.1C161.4 351.1 165.2 353.9 168.7 356.5C172.2 359.1 175.8 361.6 179.2 363.7C182.6 365.8 186.4 367.4 189 369C191.6 370.6 192.7 371.7 195 373C197.3 374.3 201 376.7 203 377C205 377.3 206.3 375.3 207 375"/>
<path class="t" d="M142.7 333.5C143.4 335.1 144.8 339.9 146.9 343C149 346.1 151.9 349.2 155.2 352.3C158.5 355.4 162.7 358.8 166.7 361.7C170.7 364.6 175.5 367.6 179.2 369.6C182.9 371.7 186.4 372.8 189 374C191.6 375.2 192.5 375.7 195 377C197.5 378.3 201.7 380.8 204 382C206.3 383.2 208.2 384.1 209 384.5"/>
<path class="l" d="M141.7 336.7C142.2 338.2 142.9 342.7 144.8 346C146.7 349.3 150 353.4 153.1 356.5C156.2 359.6 159.5 362.1 163.5 364.8C167.5 367.6 172.8 370.8 177 373C181.2 375.2 186 376.8 189 378C192 379.2 193 379 195 380C197 381 199 383.1 201 384C203 384.9 206 385.2 207 385.5"/>
<path class="l" d="M159.4 349 L160 346.5 L166 347.5 L167.7 351.2 L164 353"/>
<path class="l" d="M177 361 L177.5 358 L181.5 358.5 L182.3 361.7"/>
<path class="w" d="M207 375C207.1 374 207 370.4 207.5 369C208 367.6 208.9 366.8 210 366.5C211.1 366.2 212.8 366.4 214 367C215.2 367.6 216.6 368.8 217 370C217.4 371.2 217.2 372.2 216.5 374C215.8 375.8 214.1 379.2 213 381C211.9 382.8 210.7 383.7 210 384.5C209.3 385.3 209.2 385.8 209 386"/>
<path class="l" d="M207.5 369C208.1 369.5 209.8 371.8 211 372C212.2 372.2 214.3 370.3 215 370"/>
<path class="l" d="M207.5 386C207.8 387.3 208.2 391.2 209 394C209.8 396.8 211.2 401 212 403C212.8 405 213.2 405.5 213.5 406"/>
<path class="m" d="M209 386C209.3 387.3 210.1 391.2 210.8 394C211.6 396.8 213.1 401.1 213.5 402.5"/>
<path class="l" d="M210.5 385C210.8 386.5 211.6 391.2 212.3 394C213 396.8 214.1 400.7 214.5 402"/>
<path class="l" d="M212 386C212.8 386.2 215.2 386.2 216.5 387C217.8 387.8 219.2 389.7 219.5 391C219.8 392.3 218.8 394.2 218 395C217.2 395.8 215.5 395.8 215 396"/>
<ellipse class="l" cx="216" cy="393.2" rx="0.9" ry="1.1"/>
<path class="l" d="M214.5 402C215.4 400.7 217.8 394.9 220 394C222.2 393.1 225.2 396.3 228 396.5C230.8 396.7 234.8 395.4 237 395C239.2 394.6 240.3 394.2 241 394"/>
<path class="l" d="M214 406C215 405.3 217.7 402.5 220 402C222.3 401.5 226.2 402.6 228 403C229.8 403.4 230.2 404.3 231 404.5C231.8 404.7 232.7 404.1 233 404"/>
<path d="M230.8,403.3 L241.6,394.6" stroke="#262626" stroke-width="2.6" stroke-linecap="round" fill="none"/>
<ellipse class="w" cx="204" cy="402" rx="5.2" ry="3.5" transform="rotate(38 204 402)"/>
<ellipse class="l" cx="204.6" cy="402.6" rx="3" ry="1.9" transform="rotate(38 204.6 402.6)"/>
<path class="l" d="M193 379.5C193.6 381.1 195.4 386 196.5 389C197.6 392 199 396.1 199.5 397.5"/>
<path class="l" d="M142.7 336.7 L134.4 344 L132.3 340.8 L129.2 341.9 L131.2 347 L134.4 351.2 L131.2 355.4 L132.3 359.6 L139.6 361.7 L140.6 364.8 L152 369 L159.4 371 L163.5 369"/>
<path class="l" d="M134.4 344 L138 347 L137 352"/>
<path class="l" d="M138.5 341 L143.5 345.5"/>
<path class="l" d="M154.2 360.6 L158.3 368 L163.5 364.8"/>
<path class="ld" d="M147.5 319.8 L147.5 330.5"/>
</g>
<g id="part1">
<path class="l" d="M145 509C145.2 508.5 145.2 507.2 146 506C146.8 504.8 147.7 503.9 150 502C152.3 500.1 157 496.9 160 494.7C163 492.5 163.3 491.4 168 488.7C172.7 486 180.5 481.9 188 478.7C195.5 475.5 204.7 471.8 213 469.5C221.3 467.2 230.2 465.9 238 464.8C245.8 463.7 253.9 463.4 260 463C266.1 462.6 272.1 462.6 274.5 462.5"/>
<path class="t" d="M147 507.5C147.7 506.8 149 505.3 151.3 503.4C153.6 501.5 158.1 498.5 161 496.3C163.9 494.1 164.3 493 169 490.4C173.7 487.8 181.5 483.7 189 480.5C196.5 477.3 205.6 473.7 213.8 471.4C222.1 469.1 230.8 467.8 238.5 466.7C246.2 465.6 254.1 465.4 260 465C265.9 464.6 271.7 464.6 274 464.5"/>
<path class="l" d="M148 509C148.8 508.3 150.2 506.8 152.5 505C154.8 503.2 159 500.3 162 498.2C165 496.1 165.6 495.1 170.3 492.5C175 489.9 182.9 485.8 190.3 482.7C197.8 479.6 206.7 476.1 215 473.7C223.3 471.3 234.2 469.5 240 468.5C245.8 467.5 246.7 467.6 250 467.5C253.3 467.4 256.7 467.6 260 468C263.3 468.4 267.2 469.3 270 470C272.8 470.7 275.2 471.4 277 472C278.8 472.6 280.3 473.2 281 473.5"/>
<path class="l" d="M274.5 463.5C274.9 463.2 276.1 461.8 277 461.5C277.9 461.2 279.2 461.4 280 462C280.8 462.6 281.3 463.8 281.5 465C281.7 466.2 281.4 468 281 469C280.6 470 279.3 470.7 279 471"/>
<ellipse class="l" cx="278" cy="466" rx="1.4" ry="2.5" transform="rotate(10 278 466)"/>
<path class="l" d="M284.5 470.5C284.4 472.1 284.6 475.9 284 480C283.4 484.1 282.1 490 281 495C279.9 500 278.7 505.3 277.7 510C276.7 514.7 275.9 518 275 523C274.1 528 273 534.8 272.5 539.7C272 544.7 272.1 548 271.9 552.7C271.7 557.5 271.3 563.2 271.2 568.2C271.1 573.2 271 577.9 271.2 582.4C271.4 586.9 272 592.1 272.5 595.3C273 598.5 274.1 600.7 274.4 601.8"/>
<path class="l" d="M282 471.5C281.7 473.8 280.8 480.2 280 485C279.2 489.8 277.8 495.8 277 500C276.2 504.2 275.9 505.1 275 510C274.1 514.9 272.6 524.4 271.9 529.4C271.2 534.4 271.1 535.6 270.6 539.7C270.1 543.8 269.3 549.2 268.9 554C268.5 558.8 268.1 563.5 268 568.2C267.9 572.9 267.9 577.9 268 582.4C268.1 586.9 268.5 592.3 268.9 595.3C269.3 598.3 269.7 599.3 270.6 600.5C271.5 601.7 273.8 602.2 274.4 602.5"/>
<path class="l" d="M281.5 470 L284.5 470.5"/>
<path class="w" d="M269.3 541 L275 542.3 L276.1 550 L270.6 551.4 L269.3 548.8Z"/>
<path class="l" d="M247.5 470C247.8 472.5 248.4 480 249 485C249.6 490 250.4 495 251 500C251.6 505 252.2 510.1 252.5 515C252.8 519.9 252.6 523.8 252.8 529.4C253 535 253.3 541.2 253.7 548.8C254.1 556.3 254.4 567.8 255 574.7C255.6 581.6 256.2 586.6 257 590.2C257.8 593.9 259.2 595.5 259.6 596.6"/>
<path class="l" d="M145 509C145.2 510 145.4 510.7 146.5 515C147.6 519.3 149.6 528.3 151.5 535C153.4 541.7 156 548.3 158 555C160 561.7 162 570 163.3 575C164.6 580 164.9 581.1 165.9 585C166.9 588.9 168.4 594 169.2 598.5C170 603 170.5 608.8 170.6 612C170.7 615.2 170.1 616.6 170 617.5"/>
<path class="l" d="M148 506C150 506.9 155.5 509.2 160 511.5C164.5 513.8 170.1 516.8 175 519.5C179.9 522.2 187.1 526.6 189.5 528"/>
<path class="l" d="M147 509C149.2 510.1 155.3 512.9 160 515.5C164.7 518.1 170.2 521.6 175 524.5C179.8 527.4 186.7 531.6 189 533"/>
<path class="l" d="M146 511.5C148.3 512.8 155.2 516.2 160 519C164.8 521.8 170.5 525.2 175 528C179.5 530.8 185 534.2 187 535.5"/>
<path class="l" d="M172 520 L185 519.5 L191 521 L196.7 526.2 L195.5 531.2 L191.7 530 L189.2 533.7"/>
<path class="l" d="M191 521 L191.7 526 L195.5 531.2"/>
<path class="l" d="M189.5 533.5C189.6 537.1 189.9 547.2 189.8 555C189.8 562.8 189.1 571.7 189.2 580C189.3 588.3 190.2 597.3 190.5 605C190.8 612.7 191.1 622.5 191.2 626"/>
<path class="t" d="M187 535.5C187 538.8 187.1 547.6 187 555C186.9 562.4 186.4 571.7 186.5 580C186.6 588.3 187.2 598 187.5 605C187.8 612 188.3 619.2 188.5 622"/>
<path class="l" d="M190.3 539.5 L192.8 541 L192.8 545 L190 546"/>
<path class="l" d="M157.5 527.5C158.1 527.2 159.4 525.9 161 526C162.6 526.1 164.7 526.7 167 528C169.3 529.3 172.8 532.2 175 534C177.2 535.8 178.9 537.6 180 539C181.1 540.4 181.2 541.9 181.5 542.5"/>
<path class="l" d="M157.5 527.5C157.9 528.4 158.8 531.2 160 533C161.2 534.8 163 536.3 165 538C167 539.7 170 541.9 172 543C174 544.1 175.5 544.5 177 544.5C178.5 544.5 180.3 543.2 181 543"/>
<path class="ld" d="M136.5 533.5 L151 533.5"/>
<path class="l" d="M170 617.5C168.9 618.5 165.7 621.5 163.5 623.5C161.3 625.5 158 627.5 157 629.7C156 632 157.2 634.5 157.3 637C157.4 639.5 157.3 641 157.7 644.5C158.1 648 159.1 654.8 159.8 658C160.5 661.2 161.2 662.1 161.8 663.5C162.4 664.9 163 665.8 163.2 666.2"/>
<path class="l" d="M163.2 666.2C163.3 667.3 162.6 670.8 163.8 673C165 675.2 169.2 677.6 170.6 679.7C172 681.8 172 684.1 172 685.8C172 687.5 170.4 688.8 170.6 689.9C170.8 691 172.2 692 173.3 692.6C174.4 693.2 176.1 693.8 177.4 693.3C178.8 692.8 180.9 691.3 181.4 689.9C181.9 688.5 180.8 685.9 180.7 685.1"/>
<path class="l" d="M180.7 685.1 L186.2 677 L185.5 673.6 L176 668.2 L174.7 666.2"/>
<path class="l" d="M170 617.5 L174.7 619.5 L186.8 625.6 L190.2 627"/>
<path class="l" d="M174.7 618.8 L186.8 625 L186.8 628.3 L174.7 624.2"/>
<path class="l" d="M185.8 627 L185.8 635"/>
<path class="l" d="M192.2 636.4C192.2 637.3 192.4 640 192.4 642C192.4 644 192.7 647.2 192.2 648.6C191.7 650 189.9 650.3 189.5 650.6"/>
<path class="l" d="M189.5 650.6 L170.6 641.8 L163.2 639.8 L160.4 643.2"/>
<path class="l" d="M160.4 643.2C160.4 644.6 159.9 648.4 160.4 651.3C160.9 654.2 162.2 658.3 163.2 660.8C164.2 663.3 165.9 665.3 166.5 666.2"/>
<path class="l" d="M163.8 641.8C163.6 643.2 162.3 647.1 162.5 650C162.7 652.9 164.8 657.8 165.2 659.4"/>
<path class="l" d="M180 631.7C180.7 632.4 182.8 634.8 184.1 635.7C185.3 636.6 186.9 636.9 187.5 637.1"/>
<ellipse class="l" cx="189.1" cy="631.7" rx="2.2" ry="3.6"/>
<path class="l" d="M186.5 628C186.8 627.7 187.7 626.1 188.5 626C189.3 625.9 190.9 626.6 191.5 627.5C192.1 628.4 192.1 630 192.2 631.5C192.3 633 192.2 635.6 192.2 636.4"/>
<path class="l" d="M163.2 664.8 L173.3 671.6 L174 678.4 L163.8 673"/>
<ellipse class="w" cx="178.4" cy="687.8" rx="2.8" ry="2.8"/>
<ellipse class="l" cx="178.8" cy="688" rx="1.4" ry="1.5"/>
<ellipse class="w" cx="151.3" cy="610.3" rx="2.5" ry="2.7"/>
<ellipse class="l" cx="151" cy="610" rx="1.3" ry="1.5"/>
<path class="l" d="M153.3 609 L157 611.2"/>
<path class="l" d="M152.8 612.3 L156.3 614"/>
<path class="l" d="M157 611.2 L156.3 614"/>
<path class="ld" d="M153.3 598.7 L153.3 607.3"/>
<path class="d" d="M158 614 L172 622.2"/>
<ellipse class="w" cx="142.8" cy="667.5" rx="2.9" ry="3.1"/>
<ellipse class="l" cx="142.5" cy="667.2" rx="1.5" ry="1.7"/>
<path class="l" d="M145 665.8 L158.8 674.3"/>
<path class="l" d="M144.3 669.6 L157.8 677.3"/>
<path class="l" d="M158.8 674.3 L157.8 677.3"/>
<path class="t" d="M149.5 668.8 L148.8 672"/>
<path class="t" d="M151.5 670 L150.8 673.2"/>
<path class="t" d="M153.5 671.2 L152.8 674.4"/>
<path class="t" d="M155.5 672.4 L154.8 675.6"/>
<path class="t" d="M157.3 673.5 L156.6 676.7"/>
<path class="ld" d="M148.3 674 L148.3 682.4"/>
<path class="d" d="M159.1 677 L170 682.4"/>
<path class="l" d="M190.8 599.2C192.6 597.8 197.7 593.2 201.7 590.8C205.7 588.4 210.6 586.5 215 585C219.4 583.5 226.1 582.5 228.3 582"/>
<path class="l" d="M228.3 582C228.2 584.2 228.3 590.3 227.5 595C226.7 599.7 224.8 605.3 223.3 610C221.8 614.7 219.8 619.8 218.3 623.3C216.8 626.8 214.9 629.5 214.2 630.8"/>
<path class="l" d="M215 585C214.4 587.2 213.4 593.3 211.7 598.3C210 603.3 207.2 610 205 615C202.8 620 200.5 624.7 198.3 628.3C196.1 631.9 192.8 635.3 191.7 636.7"/>
<path class="l" d="M191.7 647.5C193.1 646.8 197.4 644.8 200 643.5C202.6 642.2 206.2 640.6 207.5 640"/>
<path class="l" d="M258.3 607.5C256.9 609.3 253.6 614.8 250 618.3C246.4 621.8 241.4 625.4 236.7 628.3C232 631.2 226.4 633.6 221.7 635.8C217 638 213.3 638.8 208.3 641.7C203.3 644.6 196.4 650.2 191.7 653.3C187 656.3 182.7 657.9 180 660C177.3 662.1 176.2 665.2 175.5 666.2"/>
<path class="l" d="M164.2 657.5C166 656.5 171.4 653.4 175 651.5C178.6 649.6 183.8 647.1 185.5 646.2"/>
<path class="w" d="M256.3 598 L266.7 601.2 L268 604.5 L265.5 608.5 L254.4 605.3Z"/>
<ellipse class="w" cx="255.5" cy="601.6" rx="1.5" ry="3.7" transform="rotate(-15 255.5 601.6)"/>
<path class="l" d="M266.7 601.2C266.4 601.8 265.2 603.3 265 604.5C264.8 605.7 265.4 607.8 265.5 608.5"/>
</g>
<g id="part2">
<path class="l" d="M290 593.4C289.9 592.1 289.1 587.5 289.6 585.6C290.1 583.7 291.8 582.4 292.8 582C293.8 581.6 295.1 583.2 295.6 583.5"/>
<path class="l" d="M295.6 583.5 L311.9 597.6"/>
<path class="l" d="M292.5 592 L292.8 587 L295 586.3 L308.4 597.6 L292.5 593.4"/>
<path class="l" d="M286.5 598.3 L290 593.4"/>
<path class="l" d="M286.5 598.3C287.1 598.5 286.7 598.8 290 599.7C293.3 600.7 301.1 602.8 306.2 604C311.3 605.2 315.1 605.8 320.4 606.8C325.7 607.8 333.1 609.7 338 610.3C342.9 610.9 345.5 611.3 350 610.5C354.5 609.7 360 608 365 605.5C370 603 375.7 598.1 380 595.6C384.3 593.1 387.1 592.2 390.6 590.3C394.1 588.4 397.7 586.5 401.2 584C404.7 581.5 408.7 578.1 411.7 575.5C414.7 572.9 417.4 570.2 419.2 568.1C421 566 421.8 564.6 422.3 562.8C422.8 561 422.8 559.1 422.3 557.5C421.8 555.9 421 554.9 419.2 553.3C417.4 551.7 414.1 549.8 411.7 548C409.3 546.2 406.4 544.1 404.9 542.7C403.4 541.3 403.6 540.2 402.5 539.5C401.4 538.8 399.3 538.2 398 538.3C396.7 538.4 395.4 539.1 394.8 540C394.2 540.9 394.4 542.9 394.3 543.5"/>
<path class="l" d="M290 593.4C293.4 594.1 305.4 596.5 310.5 597.6C315.6 598.7 315.8 598.8 320.4 599.7C325 600.6 333.1 602.5 338 603.2C342.9 603.9 345.5 604.5 350 603.7C354.5 603 360 601 365 598.7C370 596.4 375.7 592.2 380 589.8C384.3 587.3 387.6 585.7 390.6 584C393.6 582.3 395.2 581.7 398 579.7C400.8 577.8 404.7 574.8 407.5 572.3C410.3 569.8 413.2 566.8 414.9 564.9C416.6 563 417.4 561.9 417.6 560.7C417.8 559.5 417.3 558.6 416 557.5C414.7 556.4 412.1 555.3 409.6 553.8C407.1 552.3 403.7 550 401.2 548.5C398.7 547 395.9 545.4 394.8 544.8"/>
<path class="m" d="M311 599.3C312.6 599.6 315.9 600.3 320.4 601.2C324.9 602.1 333.1 604.1 338 604.8C342.9 605.5 345.5 606.2 350 605.5C354.5 604.8 360 602.9 365 600.6C370 598.3 375.7 594.2 380 591.8C384.3 589.4 387.4 587.8 390.6 586C393.8 584.2 395.9 583.3 399 581.2C402.1 579.1 406 575.9 408.9 573.4C411.8 570.9 414.7 568 416.4 566C418.1 564 418.9 562.8 419.2 561.4C419.5 560 419.1 558.8 418 557.5C416.9 556.2 415 555.1 412.8 553.6C410.6 552.1 407.1 549.9 404.6 548.3C402.1 546.7 399.1 544.5 398 543.8"/>
<path class="t" d="M313.3 602.5C317.4 603.5 331.9 607.2 338 608.2C344.1 609.2 345.5 609.3 350 608.5C354.5 607.7 360 605.8 365 603.3C370 600.8 375.7 596.2 380 593.7C384.3 591.2 387.2 590.1 390.6 588.2C394 586.4 396.9 584.9 400.2 582.6C403.5 580.3 407.4 577.1 410.3 574.5C413.2 571.9 416.1 569.1 417.8 567C419.6 564.9 420.4 563.6 420.8 562C421.2 560.4 421 558.9 420.2 557.5C419.4 556.1 418 555 416 553.4C414 551.8 410.6 549.8 408.2 548.1C405.8 546.4 402.6 543.9 401.5 543"/>
<path class="l" d="M399 549C398.8 551.7 398.2 559.9 397.5 565C396.8 570.1 395.2 577.2 394.8 579.7"/>
<path class="l" d="M402.8 550.6C402.4 553.2 401.4 561.1 400.6 566C399.8 570.9 398.4 577.4 398 579.7"/>
<path class="l" d="M420.7 566C420.1 567.9 418.5 572.7 417 577.6C415.5 582.5 413.1 590.7 411.7 595.6C410.3 600.5 409.7 603.1 408.6 607.2C407.5 611.3 406.2 615.5 405.2 620C404.2 624.5 403.2 629.3 402.4 634C401.6 638.7 400.7 643.5 400.2 648.2C399.7 652.9 399.3 658.2 399.2 662.4C399.1 666.6 399.2 670.3 399.5 673.6C399.8 676.9 400.2 679.5 401 682C401.8 684.5 404.1 685.8 404.3 688.5C404.5 691.2 403.2 694.9 402 698C400.8 701.1 399.3 704.2 397 707C394.7 709.8 391.8 712.1 388 715C384.2 717.9 377.8 721.7 374 724.5C370.2 727.3 368.2 729.6 365 732C361.8 734.4 358.9 736.5 355 739C351.1 741.5 345.7 744.7 341.7 746.7C337.7 748.8 332.8 750.5 331 751.3"/>
<path class="l" d="M286.5 598.3C286.7 601.5 287.3 610.7 287.9 617.4C288.5 624.1 289.3 631.5 290 638.5C290.7 645.5 291.4 652.6 292.1 659.7C292.8 666.8 293.6 676.3 294.2 680.9C294.8 685.5 295.6 685.8 295.5 687.5C295.4 689.2 294 690.6 293.7 691.2"/>
<path class="l" d="M293.7 691.2 L293.7 698.7 L297.5 701.2 L296.2 710 L295 713.7"/>
<path class="l" d="M293.7 691.2C294.8 691 297.7 689.8 300 690C302.3 690.2 305.4 691.2 307.5 692.5C309.6 693.8 312.9 696.2 312.5 697.5C312.1 698.8 307.5 699.4 305 700C302.5 700.6 298.8 701 297.5 701.2"/>
<path class="l" d="M348.7 613.7C348.1 616.4 346.2 624 345 630C343.8 636 342.2 643.8 341.2 650C340.1 656.2 339.5 662.5 338.7 667.5C337.9 672.5 337 675.9 336.2 680C335.4 684.1 334.5 688.7 333.7 692C332.9 695.3 332 697.3 331.2 700C330.4 702.7 329.1 706.7 328.7 708"/>
<ellipse class="l" cx="370" cy="617" rx="9.7" ry="5.3" transform="rotate(-45 370 617)"/>
<path class="l" d="M363.5 619C363.5 619.6 362.9 621.7 363.3 622.5C363.7 623.3 364.9 624 366 624C367.1 624 369.3 622.8 370 622.5"/>
<path class="ld" d="M411.5 596.5 L426 596.5"/>
<path class="l" d="M295 713.7C296.7 714.5 301.2 716.8 305 718.7C308.8 720.6 314.2 722.7 317.5 725C320.8 727.3 323.6 729.2 325 732.5C326.4 735.8 326 740.4 326.2 745C326.4 749.6 326.4 756.9 326.2 760C326 763.1 325.2 763.1 325 763.7"/>
<path class="l" d="M296.2 710C298.1 711.2 303.9 714.6 307.5 717.5C311.1 720.4 315.2 724.2 317.5 727.5C319.8 730.8 321 734.2 321.2 737.5C321.4 740.8 320.1 745.4 318.7 747.5C317.2 749.6 313.5 749.6 312.5 750"/>
<path class="l" d="M286.2 752.5 L297.5 742.5 L312.5 750 L326.2 757.5"/>
<path class="l" d="M286.2 752.5 L286.2 760 L291.2 762.5 L295 760 L295 755 L298.7 753.7 L307.5 757.5 L308.7 761.2 L325 763.7"/>
<path class="l" d="M289 750.3 L290 755 L295 755"/>
<path class="l" d="M295 710C298.8 709.8 310.4 709.8 317.5 708.7C324.6 707.7 330.4 706.9 337.5 703.7C344.6 700.5 353.9 693.2 360 689.5C366.1 685.8 369.9 683.4 374 681.4C378.1 679.4 382.9 677.9 384.7 677.2"/>
<path class="l" d="M384.7 677.2C384.8 678 385.5 679.9 385.4 682C385.3 684.1 384.7 686.2 384 690C383.3 693.8 382.2 700.3 381 705C379.8 709.7 378.2 714.8 377 718C375.8 721.2 375.2 722 374 724.5C372.8 727 371.8 730.2 370 733C368.2 735.8 365.5 738.4 363 741C360.5 743.6 358.6 745.8 355 748.5C351.4 751.2 345.5 755.2 341.7 757.3C337.9 759.4 334.9 760.5 332.3 761.3C329.7 762.1 327.3 761.9 326.3 762"/>
<path class="l" d="M326.2 728.7C328.9 727.5 336.9 724.8 342.5 721.5C348.1 718.2 355.2 712.5 360 709C364.8 705.5 367.4 704.4 371.3 700.5C375.2 696.6 381.3 688.1 383.3 685.6"/>
</g>
<g id="smalla">
<path class="ld" d="M54.7 155 L54.7 164.7"/>
<path class="ld" d="M42 170.7 L42 159.3 L64.7 172 L64.7 182.7"/>
<path class="w" d="M36.9 194C37.7 193.5 39.8 191.5 41.5 190.8C43.2 190.1 45.2 189.4 47 189.9C48.8 190.4 51.1 192.2 52.5 194C53.9 195.8 54.8 198.5 55.2 200.4C55.6 202.3 56 203.9 54.8 205.5C53.6 207.1 49.9 208.9 47.9 210C45.9 211.1 44.5 211.7 42.9 212.3C41.2 212.9 38.8 213.3 38 213.5"/>
<path class="l" d="M36.9 194C38 194.3 41.5 194.6 43.3 195.8C45.1 197 46.9 199.5 47.9 201.3C48.9 203.1 49.3 205.4 49.3 206.8C49.3 208.2 48.1 209.5 47.9 210"/>
<path class="l" d="M31.9 199.5 L36.9 194"/>
<ellipse class="w" cx="36.5" cy="205.9" rx="5.1" ry="7.3" transform="rotate(-15 36.5 205.9)"/>
<ellipse class="l" cx="36.2" cy="206.2" rx="4" ry="6" transform="rotate(-15 36.2 206.2)"/>
<path class="l" d="M35.5 197.5C36.3 197.8 39.1 197.9 40.5 199C41.9 200.1 43.1 202.6 43.6 204.3C44.1 206.1 44.1 208.1 43.8 209.5C43.4 210.9 41.9 212.4 41.5 213"/>
<path class="l" d="M37.3 196.2C38.1 196.5 41 196.6 42.4 197.8C43.8 199 45 201.4 45.5 203.2C46 205 46.1 207 45.7 208.5C45.3 210 43.7 211.6 43.3 212.2"/>
<path class="l" d="M38.8 195C39.7 195.3 42.6 195.5 44 196.7C45.4 197.9 46.6 200.4 47.2 202.2C47.8 204 47.8 206.1 47.5 207.6C47.2 209.1 45.6 210.7 45.2 211.3"/>
<ellipse class="w" cx="67.3" cy="211.9" rx="5.5" ry="6.4" transform="rotate(-20 67.3 211.9)"/>
<ellipse class="w" cx="66.6" cy="212.4" rx="5.3" ry="6.2" transform="rotate(-20 66.6 212.4)"/>
<path class="ld" d="M41.5 183 L41.5 190.5"/>
<path class="ld" d="M64.9 196.7 L64.9 205.5"/>
<rect class="w" x="129.3" y="116.3" width="3.2" height="12" rx="1.6"/>
<path class="ld" d="M130.9 128.3 L130.9 134.5"/>
<path class="ld" d="M133.5 121.2 L142.5 121.2"/>
<path class="ld" d="M109.3 135.3 L109.3 143.2"/>
<path class="w" d="M94.7 157.2C94.8 156 95 154.3 95.8 153.1C96.6 151.9 97.1 151.8 99.3 150.2C101.5 148.6 105.4 145.8 108.7 143.7C112 141.6 116.1 139.6 119.2 137.9C122.3 136.2 125.4 134.4 127.3 133.8C129.2 133.2 129.7 133.9 130.8 134.4C131.9 134.9 133 135.6 133.7 136.7C134.4 137.8 134.8 139.5 134.9 140.8C135 142.1 135.2 143.2 134.3 144.3C133.4 145.4 132.2 145.8 129.7 147.2C127.2 148.6 122.5 150.8 119.2 152.5C115.9 154.2 112.7 155.8 109.8 157.2C106.9 158.6 103.7 160.4 101.7 161.2C99.7 162 98.7 162 97.6 161.8C96.5 161.6 95.7 160.9 95.2 160.1C94.7 159.3 94.6 158.4 94.7 157.2Z"/>
<path class="l" d="M96.3 155.8C96.9 155.1 97.6 153.4 99.8 151.6C102 149.8 105.9 147.2 109.2 145.2C112.5 143.2 116.6 141.1 119.7 139.4C122.8 137.8 126.5 136 127.8 135.3"/>
<path class="w" d="M109.2 147.2 L115.1 145.5 L115.7 153.1 L109.8 155.4Z"/>
<path class="m" d="M111.3 148.5 L111.6 153.5"/>
<path class="l" d="M113.3 148 L113.5 152.8"/>
<path class="w" d="M119.2 148 L124.5 146.8 L127.3 149.3 L126.5 152.7 L121.3 153.2Z"/>
<path class="l" d="M115.7 150 L119.2 149.3"/>
<path class="w" d="M126.7 138.5 L133.2 137.3 L134.3 143.2 L127.9 144.9Z"/>
<path class="l" d="M128.6 140 L131.8 139.4 L132.4 142.3 L129.2 143Z"/>
<path class="ld" d="M134.9 140.8 L147.2 142.6 L147.7 147.8"/>
<path class="ld" d="M134.3 144.3 L144.8 153.7"/>
<path class="ld" d="M150.8 137 L150.8 146.5"/>
<path class="w" d="M145.5 151.5C145.8 151 146.2 149.1 147 148.5C147.8 147.9 149.5 147.7 150.5 148C151.5 148.3 152.7 149.5 153 150.5C153.3 151.5 153.2 153.2 152.5 154C151.8 154.8 150.1 155.4 149 155.5C147.9 155.6 146.6 155.2 146 154.5C145.4 153.8 145.6 152 145.5 151.5"/>
<path class="w" d="M152.3 150.6 L155.8 152.3 L155.8 155.8 L152.5 154.2Z"/>
<ellipse class="l" cx="148.6" cy="151.8" rx="1.7" ry="2.1"/>
<path class="w" d="M130.5 161.5 L138 154.3 L140.5 154.8 L144.8 158.3 L144.3 160.8 L140.8 165.3 L137.8 165.8 L133.5 163.8Z"/>
<ellipse class="l" cx="139.5" cy="160.5" rx="1.5" ry="2.1" transform="rotate(30 139.5 160.5)"/>
<path class="l" d="M134.2 160.3 L138.5 156"/>
<path class="l" d="M136.2 163 L142.2 157"/>
<path class="l" d="M140.8 165.3 L140.3 162.8"/>
<path class="w" d="M124.2 163 L125.7 161.7 L131.7 163.8 L133 166.3 L132.3 169 L129.8 169.5 L124.7 167.3Z"/>
<path class="l" d="M125.7 161.7 L126.2 165.3 L132.1 168"/>
<path class="l" d="M126.2 165.3 L124.7 167.3"/>
<path class="ld" d="M130.8 169.8 L130.8 178.3"/>
<path class="d" d="M156.7 156 L196 178.5"/>
<path class="d" d="M136.7 165 L169.7 184.2"/>
<ellipse class="w" cx="216.5" cy="211" rx="2.6" ry="2.7"/>
<ellipse class="l" cx="216.8" cy="211.3" rx="1.3" ry="1.4"/>
<path class="l" d="M214.3 209.7 L210.8 206.3"/>
<path class="l" d="M215.8 208.5 L212.3 205.3"/>
<path class="l" d="M210.8 206.3 L212.3 205.3"/>
<path class="ld" d="M216.5 214 L216.5 223.5"/>
<path class="ld" d="M197.5 199.5 L210.5 206.3"/>
<path class="ld" d="M212 164.5 L212 175.3"/>
</g>
<g id="smallb">
<path class="w" d="M49.2 308C50.1 307.2 52.8 304.4 54.5 303C56.2 301.6 57.7 299.8 59.7 299.4C61.7 299 64.5 299.4 66.5 300.5C68.5 301.6 70.3 303.7 71.7 305.7C73.1 307.7 74.2 310.4 74.7 312.5C75.2 314.6 75 317 74.4 318.5C73.8 320 72.8 320.4 71 321.5C69.2 322.6 65.9 324.1 63.5 325.2C61.1 326.3 57.7 327.8 56.5 328.3"/>
<ellipse class="w" cx="51.9" cy="318" rx="8" ry="10.4" transform="rotate(-15 51.9 318)"/>
<path class="l" d="M53.7 304.6C54.8 304.8 58.3 304.7 60 306C61.7 307.3 63.5 310.1 64.1 312.5C64.7 314.9 64.6 318.2 63.8 320.2C63 322.2 59.9 323.9 59.1 324.7"/>
<path class="l" d="M55.2 303.3C56.3 303.5 59.8 303.4 61.6 304.7C63.4 306 65.1 308.9 65.8 311.3C66.5 313.7 66.4 317.1 65.5 319.2C64.6 321.3 61.4 323.1 60.6 323.9"/>
<path class="l" d="M56.6 301.9C57.7 302.1 61.3 302 63.1 303.4C64.9 304.8 66.8 307.7 67.5 310.2C68.2 312.7 68 316.2 67.1 318.3C66.2 320.4 63 322.2 62.2 323"/>
<path class="l" d="M58.9 299.8C60 300.1 63.9 299.9 65.8 301.3C67.7 302.7 69.7 305.6 70.4 308.2C71.1 310.8 70.9 314.5 70 316.7C69.1 318.9 65.8 320.8 64.9 321.6"/>
<ellipse class="l" cx="48.3" cy="313" rx="1.5" ry="2" transform="rotate(-15 48.3 313)"/>
<ellipse class="l" cx="56.3" cy="321.5" rx="1.6" ry="2.1" transform="rotate(-15 56.3 321.5)"/>
<ellipse class="l" cx="47.8" cy="322" rx="1.5" ry="2" transform="rotate(-15 47.8 322)"/>
<path class="l" d="M46.5 309.5 L51.5 312.5 L50.5 316.5"/>
<path class="l" d="M51.5 312.5 L54.5 310.8"/>
<path class="l" d="M52.5 324.5 L55 327"/>
<path class="ld" d="M54.9 329.2 L54.9 338"/>
<path class="l" d="M65.5 339.5C66.2 339.1 68.4 337.6 70 337.2C71.6 336.8 73.5 336.8 75 337.3C76.5 337.8 78.1 338.8 79 340C79.9 341.2 80.4 343.1 80.5 344.5C80.6 345.9 79.7 347.8 79.5 348.5"/>
<path class="l" d="M66 341C66.8 340.7 69.1 339.3 70.5 339C71.9 338.7 73.4 338.8 74.5 339.3C75.6 339.8 76.7 340.9 77.3 341.8C77.9 342.8 78 343.9 78 345C78 346.1 77.6 347.8 77.5 348.3"/>
<path class="l" d="M65.5 339.5 L66 341"/>
<path class="l" d="M76 343 L76 347 L79.5 348.5"/>
<path class="ld" d="M79.2 349.5 L79.2 359.5"/>
<ellipse class="w" cx="67.2" cy="353.7" rx="3.4" ry="4.3" transform="rotate(-15 67.2 353.7)"/>
<path class="l" d="M66.5 352.5 L68.5 354.5"/>
<path class="ld" d="M67.2 358.5 L67.2 371.5"/>
<ellipse class="w" cx="54" cy="361" rx="2.2" ry="2.5" transform="rotate(-20 54 361)"/>
<path class="l" d="M55.5 359.3 L59 357.8"/>
<path class="l" d="M55.8 362 L59.3 360"/>
<path class="l" d="M59 357.8 L59.3 360"/>
<path class="ld" d="M53.7 364 L53.7 375"/>
<path class="ld" d="M104.3 315 L104.3 323"/>
<path class="l" d="M91.2 325.3 L92.7 323.7 L93.5 329.7 L101 327.5 L104.7 323.7 L107 323.7 L107.7 333.5 L118.2 347.7 L119 356 L117.5 351.5 L108.5 344 L105.5 342.5"/>
<path class="l" d="M91.2 325.3 L91.5 331.5 L93.5 333 L101 331 L101 327.5"/>
<path class="l" d="M89.7 335.7 L91.2 335 L92 341.7 L101 338 L104.7 335"/>
<path class="l" d="M89.7 335.7 L90 343 L92 344.5 L101 341 L101 338"/>
<path class="l" d="M104.7 323.7 L104.7 342"/>
<path class="l" d="M101 331 L101 336.5"/>
<path class="l" d="M101 341 L105.5 342.5"/>
<path class="l" d="M107.7 333.5 L108.5 344"/>
<ellipse class="w" cx="105" cy="355.5" rx="2.2" ry="2.5" transform="rotate(-20 105 355.5)"/>
<path class="l" d="M106.5 353.7 L111 351.8"/>
<path class="l" d="M107 356.3 L111.3 354.2"/>
<path class="l" d="M111 351.8 L111.3 354.2"/>
<path class="ld" d="M104.7 358 L104.7 367"/>
<rect class="w" x="97.2" y="385" width="2.7" height="10" rx="1.35"/>
<path class="ld" d="M98.5 395 L98.5 401.5"/>
<path class="ld" d="M87.7 389.5 L96 389.5"/>
<path class="w" d="M89.4 404C89.5 403.2 90.1 402.4 90.7 401.9C91.3 401.4 92.2 401.1 93.2 401.1C94.2 401.1 95.2 401.3 96.5 401.9C97.8 402.5 98.6 403.3 100.7 404.8C102.8 406.3 106.2 408.6 109 410.7C111.8 412.8 114.9 415.5 117.3 417.3C119.7 419.1 121.7 420.1 123.2 421.5C124.7 422.9 125.9 424.4 126.5 425.7C127.1 427 127.2 428.4 126.9 429.4C126.6 430.4 125.7 431.5 124.8 431.9C123.9 432.2 123 432.1 121.5 431.5C120 430.9 118.1 429.7 115.7 428.2C113.3 426.7 110.1 424.4 107.3 422.3C104.5 420.2 101.3 417.6 99 415.7C96.7 413.8 94.7 412.2 93.2 410.7C91.7 409.2 90.8 408 90.2 406.9C89.6 405.8 89.3 404.8 89.4 404Z"/>
<path class="l" d="M93.2 402.8C94.5 403.6 98.1 405.6 100.7 407.3C103.3 409 106.2 411.2 109 413.2C111.8 415.1 115.1 417.3 117.3 419C119.5 420.7 121 421.9 122.3 423.2C123.5 424.4 124.4 425.9 124.8 426.5"/>
<ellipse class="m" cx="93.2" cy="406.5" rx="1.5" ry="2" transform="rotate(-30 93.2 406.5)"/>
<path class="m" d="M105.3 416.9 L119.4 425.7"/>
<ellipse class="l" cx="120.8" cy="427.3" rx="1" ry="0.8" transform="rotate(30 120.8 427.3)"/>
<path class="t" d="M109.5 411 L110.2 409.6 L111.3 412 L112.2 410.7 L113.3 413.2 L114.2 412 L115.3 414.4 L116.2 413.3"/>
<path class="ld" d="M111 428.5 L111 438"/>
<path class="ld" d="M117 384.5 L117 391.7"/>
<path class="w" d="M113.5 393.5 L120.5 391.7 L122.3 393.5 L122 397 L115 398.7 L113.5 397Z"/>
<ellipse class="w" cx="111" cy="398.5" rx="3.1" ry="3.3"/>
<ellipse class="l" cx="111" cy="398.7" rx="1.5" ry="1.7"/>
<path class="l" d="M110.2 392.5 L105 403 L111 407.5 L111.5 402"/>
<path class="w" d="M135.3 417 L139 414.5 L144 416.5 L144 420 L140.5 422 L135.5 420.5Z"/>
<path class="l" d="M139 414.5 L139.2 418.5 L135.5 420.5"/>
<path class="l" d="M139.2 418.5 L144 420"/>
<path class="w" d="M123 408.5 L127.5 406.5 L138 412.5 L138 415.5 L134 418 L123.5 411Z"/>
<path class="l" d="M125 409.8 L134.5 415.5 L137.5 413"/>
<path class="l" d="M127 408 L130 412.7"/>
<path class="l" d="M129.5 408.5 L132.5 413.5"/>
<path class="l" d="M132 410 L134.5 415.5"/>
<path class="ld" d="M137.2 422.7 L137.2 433.5"/>
<ellipse class="w" cx="148.7" cy="395.5" rx="3.3" ry="3.6"/>
<ellipse class="l" cx="148.3" cy="395.3" rx="2" ry="2.3"/>
<path class="l" d="M151.5 393.7 L160.5 389"/>
<path class="l" d="M152 396.7 L161.3 391.5"/>
<path class="l" d="M160.5 389 L161.3 391.5"/>
<path class="t" d="M153.5 392.8 L154.5 395.3"/>
<path class="t" d="M155.3 391.8 L156.3 394.3"/>
<path class="t" d="M157 390.8 L158 393.3"/>
<path class="t" d="M158.8 389.9 L159.8 392.4"/>
<path class="ld" d="M150 399.5 L150 412"/>
<path class="w" d="M162.5 383C163.1 382.6 164.6 380.8 166 380.5C167.4 380.2 169.7 380.4 171 381C172.3 381.6 173.2 382.8 173.7 384C174.2 385.2 174.4 386.9 174 388C173.6 389.1 172.7 390.2 171.5 390.7C170.3 391.2 168.3 391.2 167 391C165.7 390.8 164.1 389.8 163.5 389.5"/>
<ellipse class="w" cx="165" cy="386.8" rx="3.3" ry="4.4" transform="rotate(-10 165 386.8)"/>
<path class="ld" d="M166.7 391.5 L166.7 403"/>
<path class="w" d="M177.5 414C177.9 413.4 178.9 411.3 180 410.5C181.1 409.7 182.7 409.3 184 409.3C185.3 409.3 187.1 409.8 188 410.5C188.9 411.2 189.4 412.3 189.7 413.5C189.9 414.7 190 416.4 189.5 417.5C189 418.6 188 419.7 186.5 420C185 420.3 182 419.9 180.5 419.5C179 419.1 178 418.4 177.5 417.5C177 416.6 177.5 414.6 177.5 414"/>
<path class="l" d="M183.5 409.5C183.9 410 185.4 411.3 185.8 412.5C186.2 413.7 186.2 415.3 186 416.5C185.8 417.7 184.8 419.2 184.5 419.7"/>
<path class="l" d="M185.5 409.5C185.9 410 187.4 411.4 187.8 412.5C188.2 413.6 188.2 414.8 188 416C187.8 417.2 186.8 418.9 186.5 419.5"/>
<path class="l" d="M177.5 414 L181 413 L182 416 L180.5 419.5"/>
<path class="ld" d="M181 420.3 L181 431.5"/>
<ellipse class="w" cx="194.8" cy="408.7" rx="3.4" ry="4.5" transform="rotate(-15 194.8 408.7)"/>
<ellipse class="l" cx="194.8" cy="408.7" rx="1.9" ry="2.8" transform="rotate(-15 194.8 408.7)"/>
<path class="ld" d="M195.5 413.5 L195.5 424"/>
</g>
<g id="smallc">
<path class="w" d="M202.3 341C202.7 340.5 203.5 338.8 204.5 338.2C205.5 337.6 207.3 337.4 208.5 337.7C209.7 338 211.2 339 211.8 340C212.4 341 212.6 342.4 212.3 343.5C212 344.6 211.1 345.9 210 346.5C208.9 347.1 207.2 347.2 206 347C204.8 346.8 203.6 346 203 345C202.4 344 202.4 341.7 202.3 341"/>
<ellipse class="w" cx="205.3" cy="342.5" rx="2.9" ry="3.6" transform="rotate(-15 205.3 342.5)"/>
<path class="l" d="M208.5 338C208.8 338.5 210.1 339.8 210.3 341C210.6 342.2 210.1 344.8 210 345.5"/>
<path class="ld" d="M205.5 329.8 L205.5 338.5"/>
<ellipse class="w" cx="217.7" cy="336.7" rx="3.4" ry="4.4" transform="rotate(-15 217.7 336.7)"/>
<ellipse class="l" cx="217.7" cy="336.7" rx="1.8" ry="2.6" transform="rotate(-15 217.7 336.7)"/>
<path class="ld" d="M216.7 319.3 L216.7 332.5"/>
<path class="l" d="M225.3 333C225.2 332.5 224.6 330.8 224.8 330C225.1 329.2 226.1 328.3 226.8 328.2C227.5 328.1 228.7 328.8 229 329.5C229.3 330.2 229.2 331.8 228.8 332.5C228.4 333.2 227.1 333.7 226.5 333.8C225.9 333.9 225.5 333.1 225.3 333"/>
<path class="ld" d="M227 309.5 L227 328"/>
<path class="w" d="M235.5 304.5C236 304 237 301.4 238.5 301.3C240 301.2 243.1 303.3 244.5 304.2C245.9 305.1 246.7 305.9 246.7 306.5C246.7 307.1 245.6 308.1 244.5 308C243.4 307.9 241 306 240 305.8C239 305.6 238.3 305.2 238.6 306.8C238.8 308.4 240.8 312.3 241.5 315.5C242.2 318.7 243.6 323.6 243 326C242.4 328.4 238.9 329.4 237.7 329.7C236.4 329.9 235.8 329.6 235.5 327.5C235.2 325.4 236.2 320.8 236.2 317C236.2 313.2 235.6 306.6 235.5 304.5"/>
<path class="l" d="M239 322.5 L239.6 325"/>
<path class="ld" d="M246.7 305.7 L258.7 305.7"/>
<ellipse class="w" cx="252.7" cy="317.7" rx="2.9" ry="3"/>
<ellipse class="l" cx="253" cy="317.5" rx="1.5" ry="1.7"/>
<path class="l" d="M250.3 316.7 L246 319.3"/>
<path class="l" d="M251.5 320.3 L247 322.3"/>
<path class="l" d="M246 319.3 L247 322.3"/>
<path class="ld" d="M252.7 321 L252.7 332.5"/>
<path class="w" d="M233 345.8 L230 347 L230.6 349.8 L234 348.6Z"/>
<ellipse class="w" cx="236" cy="344.4" rx="4" ry="4"/>
<path class="ld" d="M238.5 350 L238.5 359.7"/>
<ellipse class="w" cx="227.3" cy="362.8" rx="2.5" ry="2.6"/>
<path class="l" d="M225 362.5 L222.3 364"/>
<path class="l" d="M226 365.2 L223 366.6"/>
<path class="l" d="M222.3 364 L223 366.6"/>
<path class="ld" d="M227.2 365.8 L227.2 374.5"/>
<path class="d" d="M222 365.5 L208 373"/>
<path class="d" d="M233.5 404.5 L241.5 410 L249.5 388 L255.5 389.7"/>
<path class="w" d="M301.3 241C301.7 240.5 302.5 238.8 303.5 238.2C304.5 237.6 306.3 237.4 307.5 237.7C308.7 238 310.2 239 310.8 240C311.4 241 311.6 242.4 311.3 243.5C311 244.6 310.1 245.9 309 246.5C307.9 247.1 306.2 247.2 305 247C303.8 246.8 302.6 246 302 245C301.4 244 301.4 241.7 301.3 241"/>
<ellipse class="w" cx="304.3" cy="242.5" rx="2.9" ry="3.6" transform="rotate(-15 304.3 242.5)"/>
<path class="l" d="M307.5 238C307.8 238.5 309.1 239.8 309.3 241C309.6 242.2 309.1 244.8 309 245.5"/>
<path class="ld" d="M305.5 247.5 L305.5 262"/>
<ellipse class="w" cx="315.7" cy="247.5" rx="3.4" ry="4.6" transform="rotate(-15 315.7 247.5)"/>
<ellipse class="l" cx="315.7" cy="247.5" rx="1.8" ry="2.7" transform="rotate(-15 315.7 247.5)"/>
<path class="ld" d="M315.7 232 L315.7 242.5"/>
<path class="l" d="M321 253.5C320.9 253 320.2 251.3 320.5 250.5C320.8 249.7 321.8 248.8 322.5 248.7C323.2 248.6 324.4 249.3 324.7 250C325 250.7 324.9 252.3 324.5 253C324.1 253.7 322.8 254.2 322.2 254.3C321.6 254.4 321.2 253.6 321 253.5"/>
<path class="ld" d="M322.5 255 L322.5 267.5"/>
<path class="w" d="M327.5 234C328.8 233.9 333.5 233.2 335 233.5C336.5 233.8 336.1 231.4 336.3 236C336.5 240.6 336.9 256.6 336.3 261C335.7 265.4 334 263.1 332.5 262.5C331 261.9 327.8 260.4 327.5 257.5C327.2 254.6 330.8 248.3 331 245C331.2 241.7 329.8 238.2 329 237.5C328.2 236.8 327.2 240.6 326.5 241C325.8 241.4 325 240.9 324.8 240C324.6 239.1 324.8 236.5 325.2 235.5C325.6 234.5 327.1 234.2 327.5 234"/>
<ellipse class="l" cx="332" cy="257" rx="0.8" ry="1.4"/>
<path class="ld" d="M330 221.5 L330 232.5"/>
<ellipse class="w" cx="345" cy="263.3" rx="2.4" ry="2.6"/>
<path class="l" d="M343.2 262 L339 260"/>
<path class="l" d="M342.8 265 L338.5 263"/>
<path class="l" d="M339 260 L338.5 263"/>
<path class="ld" d="M344.5 249 L344.5 260"/>
</g>
<g id="smalld">
<path class="w" d="M397.5 270.5C398.1 270 399.3 268.1 401.2 267.5C403.1 266.9 407.2 266.6 408.7 267C410.2 267.4 409.8 265.6 410 270C410.2 274.4 410.6 289.5 410 293.7C409.4 297.9 407.7 295.6 406.2 295C404.7 294.4 401.4 292.9 401.2 290C401 287.1 404.8 280.6 405 277.5C405.2 274.4 403.3 271.9 402.5 271.5C401.7 271.1 400.8 274.9 400 275.3C399.2 275.7 398.4 274.8 398 274C397.6 273.2 397.6 271.1 397.5 270.5"/>
<path class="l" d="M405.5 288 L406 291"/>
<path class="ld" d="M403.7 253 L403.7 266.2"/>
<ellipse class="w" cx="391.2" cy="282.5" rx="2.7" ry="2.9"/>
<ellipse class="l" cx="391" cy="282.3" rx="1.4" ry="1.6"/>
<path class="l" d="M393.5 281.3 L397.8 283.8"/>
<path class="l" d="M392.5 285 L397 287"/>
<path class="l" d="M397.8 283.8 L397 287"/>
<path class="ld" d="M393 287 L393 298.5"/>
<path class="l" d="M411.5 297C411.4 296.5 410.9 294.8 411.2 294C411.5 293.2 412.6 292.2 413.5 292.2C414.4 292.1 416.2 292.9 416.8 293.7C417.4 294.5 417.5 296 417 296.8C416.5 297.6 414.9 298.6 414 298.6C413.1 298.6 411.9 297.3 411.5 297"/>
<path class="ld" d="M413.7 299.5 L413.7 309.5"/>
<ellipse class="w" cx="422" cy="299.4" rx="3.6" ry="4.6" transform="rotate(-20 422 299.4)"/>
<ellipse class="l" cx="422" cy="299.4" rx="1.9" ry="2.8" transform="rotate(-20 422 299.4)"/>
<path class="ld" d="M424.4 282.5 L423.5 294.6"/>
<path class="w" d="M427.7 303.5C428.1 303 428.9 300.9 430 300.3C431.1 299.7 432.8 299.3 434 299.6C435.2 299.9 436.7 300.9 437.3 302C437.9 303.1 438.1 304.8 437.8 306C437.5 307.2 436.6 308.8 435.5 309.5C434.4 310.2 432.7 310.6 431.5 310.3C430.3 310.1 429.1 309.1 428.5 308C427.9 306.9 427.8 304.2 427.7 303.5"/>
<ellipse class="w" cx="430.8" cy="305.3" rx="3" ry="3.9" transform="rotate(-20 430.8 305.3)"/>
<path class="l" d="M434 300C434.3 300.6 435.6 302.1 435.8 303.5C436.1 304.9 435.6 307.7 435.5 308.5"/>
<path class="ld" d="M434 289.5 L434 299.3"/>
<ellipse class="w" cx="426" cy="323.6" rx="2.6" ry="2.9"/>
<ellipse class="l" cx="425.8" cy="323.4" rx="1.3" ry="1.5"/>
<path class="ld" d="M427.5 327 L427.5 334.2"/>
<path class="ld" d="M438.5 309.5 L465 324.2"/>
<path class="ld" d="M428.8 324.8 L448.6 335.2"/>
</g>
<g id="smalle">
<rect class="w" x="520.5" y="319.5" width="3" height="10.7" rx="1.5"/>
<path class="ld" d="M512.5 322.8 L520 322.8"/>
<path class="d" d="M521.7 331 L521.7 355"/>
<path class="ld" d="M505.3 337.7 L505.3 343.7"/>
<path class="w" d="M500.5 344.3 L503.5 343 L510.5 347 L509 350.5 L506 352Z"/>
<ellipse class="w" cx="501.6" cy="346.3" rx="1.6" ry="2.2" transform="rotate(-25 501.6 346.3)"/>
<ellipse class="w" cx="508.7" cy="350.3" rx="2.9" ry="3.1"/>
<ellipse class="l" cx="508.7" cy="350.3" rx="1.4" ry="1.6"/>
<path class="l" d="M510.5 343 L520 354.5 L518 358 L510.5 359.5 L510.2 356.5"/>
<path class="w" d="M494.5 380C494.8 379 495.1 378 496 377C496.9 376 498.3 375.2 500 374C501.7 372.8 503.3 371.8 506 370C508.7 368.2 513.3 365 516 363C518.7 361 520.3 359.3 522 358C523.7 356.7 524.8 355.5 526 355C527.2 354.5 528.2 354.6 529 355C529.8 355.4 530.4 356.4 530.5 357.5C530.6 358.6 530.2 360.2 529.5 361.5C528.8 362.8 528.2 363.1 526 365C523.8 366.9 519.3 370.5 516 373C512.7 375.5 508.7 378.2 506 380C503.3 381.8 501.6 383.2 500 384C498.4 384.8 497.4 385.2 496.5 385C495.6 384.8 494.8 383.8 494.5 383C494.2 382.2 494.2 381 494.5 380Z"/>
<path class="l" d="M496.5 379C497.2 378.4 498.9 376.7 500.5 375.5C502.1 374.3 503.4 373.8 506 372C508.6 370.2 513.2 367.1 516 365C518.8 362.9 521.2 360.8 523 359.5C524.8 358.2 526.1 357.2 527 357C527.9 356.8 528.3 357.3 528.5 358C528.7 358.7 528.1 360.5 528 361"/>
<path class="m" d="M500.5 378.5 L513.5 371"/>
<ellipse class="l" cx="498" cy="381.3" rx="1.2" ry="0.9" transform="rotate(-30 498 381.3)"/>
<ellipse class="l" cx="526" cy="360" rx="1.3" ry="1.7" transform="rotate(-30 526 360)"/>
<path class="t" d="M504.3 369.8 L505.2 368.2 L506.3 369.4 L507.2 367.8 L508.3 369 L509.2 367.3 L510.3 368.3"/>
<path class="ld" d="M512 378.5 L512 391"/>
<path class="w" d="M486 357 L493.5 350 L496 350.5 L500 354 L499.5 356.5 L496 361 L493 361.5 L489 359.5Z"/>
<ellipse class="l" cx="494.8" cy="356.3" rx="1.5" ry="2.1" transform="rotate(30 494.8 356.3)"/>
<path class="l" d="M489.5 356 L493.8 351.8"/>
<path class="l" d="M491.5 358.8 L497.5 352.8"/>
<path class="l" d="M496 361 L495.5 358.5"/>
<path class="w" d="M480 358.5 L481.5 357.3 L487.5 359.5 L488.7 362 L488 364.7 L485.5 365.2 L480.5 363Z"/>
<path class="l" d="M481.5 357.3 L482 361 L487.8 363.6"/>
<path class="l" d="M482 361 L480.5 363"/>
<path class="ld" d="M486.2 366.3 L486.2 377.5"/>
<path class="ld" d="M481.5 334.5 L499.5 344.5"/>
<path class="ld" d="M466 346.5 L480.5 356.5"/>
</g>
<g id="part33">
<path class="w" d="M51 465C51.2 464.6 51.6 462.9 52.5 462.3C53.4 461.8 55.2 461.6 56.5 461.7C57.8 461.8 59.3 462.3 60 463C60.7 463.7 61 465 60.8 466C60.6 467 60 468.3 59 468.8C58 469.3 55.8 469.4 54.5 469.2C53.2 469 52.1 468.5 51.5 467.8C50.9 467.1 51.1 465.5 51 465"/>
<path class="l" d="M53.5 464.5C53.8 464.3 54.4 463.3 55 463.2C55.6 463.1 56.8 463.4 57 464C57.2 464.6 56.9 466 56.5 466.5C56.1 467 55 467.3 54.5 467C54 466.7 53.7 464.9 53.5 464.5"/>
<path class="l" d="M60.3 462.8C61.2 462.9 64.1 462.8 65.5 463.2C66.9 463.6 67.9 464.3 68.5 465C69.1 465.7 69.1 467.1 69.2 467.5"/>
<path class="l" d="M60.5 466.5C60.9 466.5 62.3 466.4 62.8 466.6C63.3 466.9 63.2 467.8 63.3 468"/>
<path class="l" d="M63.3 468C63.2 473.3 62.7 488 62.6 500C62.5 512 62.8 528.7 62.9 540C63 551.3 63 561.9 63.5 568C64 574.1 65.4 575.2 65.8 576.7"/>
<path class="l" d="M69.2 467.5C69.2 472.9 69.4 487.9 69.4 500C69.4 512.1 69.2 528.7 69 540C68.8 551.3 69 561.9 68.5 568C68 574.1 66.6 575.2 66.2 576.7"/>
<path class="t" d="M66.3 467.5 L66.3 483.5"/>
<path class="ld" d="M69.5 495 L85 495"/>
</g>
<g id="fwd">
<path d="M50.3,707.7 L58.6,694.3 L60.3,697.6 L73.3,688 L76.2,687.8 L76.2,699.2 L60.6,707.8 L59.2,711.8Z" fill="#0a0a0a"/>
<path d="M52.3,706 L58.2,696.6" stroke="#fff" stroke-width="0.7" fill="none"/>
<text x="0" y="0" transform="matrix(0.66,-0.39,-0.15,1,59.9,707)" style="font-size:9.6px;font-weight:bold;fill:#fff;text-anchor:start;letter-spacing:-0.2px">FWD</text>
</g>

<!-- ===== LABELS ===== -->
<g id="labels">
<text x="388" y="70.7">7</text>
<text x="149.7" y="124.9">26</text>
<text x="109.5" y="134.5">18</text>
<text x="150.8" y="135.4">17</text>
<text x="130.8" y="187.7">22</text>
<text x="54.6" y="153.7">36</text>
<text x="41.6" y="179.7">37</text>
<text x="65.5" y="193.8">38</text>
<text x="212" y="161.7">5</text>
<text x="216.5" y="232.7">28</text>
<text x="414.2" y="180.4">8</text>
<text x="476.6" y="175.7">8</text>
<text x="330" y="221.2">20</text>
<text x="315" y="231.2">24</text>
<text x="344.5" y="248.7">23</text>
<text x="305.5" y="270.7">27</text>
<text x="322.5" y="276.2">25</text>
<text x="403.7" y="251.9">20</text>
<text x="424.2" y="281.2">24</text>
<text x="434.2" y="288.7">27</text>
<text x="393" y="306.7">23</text>
<text x="413.7" y="317.4">25</text>
<text x="427.2" y="342">28</text>
<text x="506.7" y="326.5">26</text>
<text x="505.3" y="336.2">17</text>
<text x="486.2" y="387">22</text>
<text x="511.7" y="399.9">19</text>
<text x="368.5" y="351.2">6</text>
<text x="441.2" y="459.9">9</text>
<text x="320" y="478.2">10</text>
<text x="104" y="313.2">34</text>
<text x="147.5" y="317.6">13</text>
<text x="55.2" y="346.2">29</text>
<text x="79.2" y="367.9">30</text>
<text x="67.2" y="379.9">31</text>
<text x="54.5" y="382.9">32</text>
<text x="105.5" y="375.4">35</text>
<text x="227" y="308.7">25</text>
<text x="264.7" y="309.4">20</text>
<text x="216.7" y="317.7">24</text>
<text x="205.5" y="328.9">27</text>
<text x="252.7" y="340.9">23</text>
<text x="238.5" y="367.9">15</text>
<text x="227.2" y="382.2">28</text>
<text x="80.2" y="393.2">26</text>
<text x="117" y="383.4">17</text>
<text x="166.7" y="412.2">16</text>
<text x="150.8" y="421.3">14</text>
<text x="111" y="446.4">21</text>
<text x="137.2" y="442.7">22</text>
<text x="180.7" y="441.2">11</text>
<text x="196.2" y="433.7">12</text>
<text x="94.2" y="498.7">33</text>
<text x="132" y="538.7">1</text>
<text x="430.3" y="600.9">2</text>
<text x="153.3" y="597.1">3</text>
<text x="148.3" y="691.5">4</text>
</g>
</svg>
</body>
</html>
